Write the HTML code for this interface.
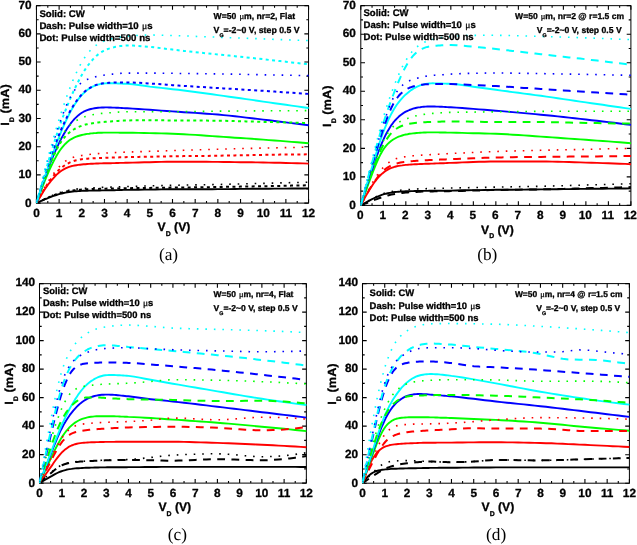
<!DOCTYPE html>
<html lang="en">
<head>
<meta charset="utf-8">
<title>ID-VD characteristics: CW vs pulsed, flat and bent</title>
<style>
html,body{margin:0;padding:0;background:#fff;}
body{width:637px;height:545px;overflow:hidden;}
svg{display:block;will-change:transform;}
svg text{text-rendering:geometricPrecision;}
svg .b text tspan.mu{font-family:'Liberation Serif','Noto Serif CJK SC',serif;font-weight:normal;stroke-width:0.25px;}
svg .b text, svg text.b{stroke:#000;stroke-width:0.3px;stroke-linejoin:round;}
</style>
</head>
<body>
<svg width="637" height="545" viewBox="0 0 637 545">
<rect width="637" height="545" fill="#fff"/>
<g id="panel-a">
<clipPath id="clip-a"><rect x="35.95" y="5.15" width="273.1" height="198.45"/></clipPath>
<path d="M36.45 203.1v-4.2M36.45 5.65v4.2M47.79 203.1v-2.2M47.79 5.65v2.2M59.12 203.1v-4.2M59.12 5.65v4.2M70.46 203.1v-2.2M70.46 5.65v2.2M81.8 203.1v-4.2M81.8 5.65v4.2M93.14 203.1v-2.2M93.14 5.65v2.2M104.48 203.1v-4.2M104.48 5.65v4.2M115.81 203.1v-2.2M115.81 5.65v2.2M127.15 203.1v-4.2M127.15 5.65v4.2M138.49 203.1v-2.2M138.49 5.65v2.2M149.82 203.1v-4.2M149.82 5.65v4.2M161.16 203.1v-2.2M161.16 5.65v2.2M172.5 203.1v-4.2M172.5 5.65v4.2M183.84 203.1v-2.2M183.84 5.65v2.2M195.18 203.1v-4.2M195.18 5.65v4.2M206.51 203.1v-2.2M206.51 5.65v2.2M217.85 203.1v-4.2M217.85 5.65v4.2M229.19 203.1v-2.2M229.19 5.65v2.2M240.53 203.1v-4.2M240.53 5.65v4.2M251.86 203.1v-2.2M251.86 5.65v2.2M263.2 203.1v-4.2M263.2 5.65v4.2M274.54 203.1v-2.2M274.54 5.65v2.2M285.88 203.1v-4.2M285.88 5.65v4.2M297.21 203.1v-2.2M297.21 5.65v2.2M308.55 203.1v-4.2M308.55 5.65v4.2M36.45 203.1h4.2M308.55 203.1h-4.2M36.45 189h2.2M308.55 189h-2.2M36.45 174.89h4.2M308.55 174.89h-4.2M36.45 160.79h2.2M308.55 160.79h-2.2M36.45 146.69h4.2M308.55 146.69h-4.2M36.45 132.58h2.2M308.55 132.58h-2.2M36.45 118.48h4.2M308.55 118.48h-4.2M36.45 104.38h2.2M308.55 104.38h-2.2M36.45 90.27h4.2M308.55 90.27h-4.2M36.45 76.17h2.2M308.55 76.17h-2.2M36.45 62.06h4.2M308.55 62.06h-4.2M36.45 47.96h2.2M308.55 47.96h-2.2M36.45 33.86h4.2M308.55 33.86h-4.2M36.45 19.75h2.2M308.55 19.75h-2.2M36.45 5.65h4.2M308.55 5.65h-4.2" stroke="#000" stroke-width="1.1" fill="none"/>
<rect x="36.45" y="5.65" width="272.1" height="197.45" fill="none" stroke="#000" stroke-width="1"/>
<g clip-path="url(#clip-a)" fill="none" stroke-linejoin="round">
<path d="M36.5 203.1 L38.3 202.2 L40.1 201.4 L41.9 200.6 L43.7 199.8 L45.5 199 L47.3 198.3 L49.1 197.5 L51 196.9 L52.8 196.2 L54.6 195.6 L56.4 195 L58.2 194.4 L60 193.9 L61.8 193.5 L63.7 193 L65.5 192.6 L67.3 192.3 L69.1 192 L70.9 191.7 L72.7 191.5 L74.5 191.3 L76.4 191.2 L78.2 191.1 L80 191 L81.8 190.9 L83.6 190.8 L85.4 190.7 L87.2 190.7 L89.1 190.6 L90.9 190.6 L92.7 190.6 L94.5 190.5 L96.3 190.5 L98.1 190.5 L99.9 190.5 L101.8 190.4 L103.6 190.4 L105.4 190.4 L107.2 190.3 L109 190.3 L110.8 190.3 L112.6 190.2 L114.5 190.2 L116.3 190.1 L118.1 190.1 L119.9 190 L121.7 190 L123.5 189.9 L125.3 189.9 L127.2 189.9 L132.8 189.8 L138.5 189.7 L144.2 189.6 L149.8 189.6 L155.5 189.5 L161.2 189.4 L166.8 189.3 L172.5 189.3 L178.2 189.3 L183.8 189.2 L189.5 189.2 L195.2 189.2 L200.8 189.2 L206.5 189.2 L212.2 189.2 L217.9 189.1 L223.5 189.1 L229.2 189.1 L234.9 189 L240.5 188.9 L246.2 188.9 L251.9 188.8 L257.5 188.8 L263.2 188.7 L268.9 188.7 L274.5 188.6 L280.2 188.6 L285.9 188.6 L291.5 188.5 L297.2 188.5 L302.9 188.5 L308.6 188.4" stroke="#000000" stroke-width="1.9"/>
<path d="M36.5 203.1 L38.3 200 L40.1 196.9 L41.9 193.9 L43.7 191 L45.5 188.3 L47.3 185.7 L49.1 183.3 L51 180.9 L52.8 178.8 L54.6 176.8 L56.4 174.9 L58.2 173.3 L60 171.8 L61.8 170.5 L63.7 169.4 L65.5 168.4 L67.3 167.6 L69.1 166.9 L70.9 166.3 L72.7 165.9 L74.5 165.5 L76.4 165.2 L78.2 164.9 L80 164.7 L81.8 164.5 L83.6 164.3 L85.4 164.2 L87.2 164 L89.1 163.9 L90.9 163.8 L92.7 163.7 L94.5 163.6 L96.3 163.5 L98.1 163.5 L99.9 163.4 L101.8 163.4 L103.6 163.3 L105.4 163.3 L107.2 163.3 L109 163.2 L110.8 163.2 L112.6 163.1 L114.5 163.1 L116.3 163 L118.1 163 L119.9 162.9 L121.7 162.9 L123.5 162.9 L125.3 162.8 L127.2 162.8 L132.8 162.6 L138.5 162.5 L144.2 162.3 L149.8 162.2 L155.5 162 L161.2 161.9 L166.8 161.7 L172.5 161.7 L178.2 161.6 L183.8 161.7 L189.5 161.7 L195.2 161.7 L200.8 161.8 L206.5 161.8 L212.2 161.9 L217.9 161.9 L223.5 162 L229.2 162 L234.9 162.1 L240.5 162.2 L246.2 162.2 L251.9 162.3 L257.5 162.4 L263.2 162.5 L268.9 162.6 L274.5 162.7 L280.2 162.8 L285.9 163 L291.5 163.1 L297.2 163.3 L302.9 163.4 L308.6 163.6" stroke="#ff0000" stroke-width="1.9"/>
<path d="M36.5 203.1 L38.3 198.1 L40.1 193.2 L41.9 188.4 L43.7 183.7 L45.5 179.2 L47.3 174.9 L49.1 170.7 L51 166.7 L52.8 162.9 L54.6 159.4 L56.4 156.1 L58.2 153.1 L60 150.3 L61.8 147.9 L63.7 145.7 L65.5 143.7 L67.3 142 L69.1 140.6 L70.9 139.3 L72.7 138.3 L74.5 137.4 L76.4 136.7 L78.2 136 L80 135.5 L81.8 135 L83.6 134.6 L85.4 134.2 L87.2 133.9 L89.1 133.7 L90.9 133.4 L92.7 133.3 L94.5 133.1 L96.3 133 L98.1 132.8 L99.9 132.8 L101.8 132.7 L103.6 132.6 L105.4 132.6 L107.2 132.6 L109 132.6 L110.8 132.6 L112.6 132.6 L114.5 132.6 L116.3 132.6 L118.1 132.6 L119.9 132.7 L121.7 132.7 L123.5 132.7 L125.3 132.7 L127.2 132.7 L132.8 132.8 L138.5 132.9 L144.2 133 L149.8 133.1 L155.5 133.3 L161.2 133.4 L166.8 133.5 L172.5 133.7 L178.2 134 L183.8 134.2 L189.5 134.6 L195.2 134.9 L200.8 135.3 L206.5 135.7 L212.2 136.1 L217.9 136.5 L223.5 136.9 L229.2 137.3 L234.9 137.7 L240.5 138 L246.2 138.4 L251.9 138.8 L257.5 139.2 L263.2 139.6 L268.9 140.1 L274.5 140.5 L280.2 140.9 L285.9 141.4 L291.5 141.9 L297.2 142.3 L302.9 142.8 L308.6 143.3" stroke="#00ff00" stroke-width="1.9"/>
<path d="M36.5 203.1 L38.3 197.4 L40.1 191.8 L41.9 186.4 L43.7 181 L45.5 175.9 L47.3 170.9 L49.1 166.1 L51 161.5 L52.8 157 L54.6 152.7 L56.4 148.7 L58.2 144.8 L60 141.1 L61.8 137.6 L63.7 134.3 L65.5 131.2 L67.3 128.3 L69.1 125.7 L70.9 123.2 L72.7 121 L74.5 118.9 L76.4 117.1 L78.2 115.4 L80 114 L81.8 112.8 L83.6 111.7 L85.4 110.9 L87.2 110.1 L89.1 109.5 L90.9 109 L92.7 108.6 L94.5 108.3 L96.3 108 L98.1 107.8 L99.9 107.6 L101.8 107.5 L103.6 107.5 L105.4 107.4 L107.2 107.4 L109 107.5 L110.8 107.5 L112.6 107.6 L114.5 107.6 L116.3 107.7 L118.1 107.8 L119.9 107.9 L121.7 108 L123.5 108.1 L125.3 108.2 L127.2 108.3 L132.8 108.6 L138.5 109 L144.2 109.4 L149.8 109.7 L155.5 110.1 L161.2 110.6 L166.8 111 L172.5 111.4 L178.2 111.8 L183.8 112.2 L189.5 112.5 L195.2 112.9 L200.8 113.3 L206.5 113.7 L212.2 114.1 L217.9 114.5 L223.5 115.1 L229.2 115.6 L234.9 116.2 L240.5 116.9 L246.2 117.6 L251.9 118.2 L257.5 118.9 L263.2 119.6 L268.9 120.3 L274.5 121 L280.2 121.7 L285.9 122.4 L291.5 123.1 L297.2 123.8 L302.9 124.5 L308.6 125.2" stroke="#0000ff" stroke-width="1.9"/>
<path d="M36.5 203.1 L38.3 197.3 L40.1 191.6 L41.9 185.9 L43.7 180.3 L45.5 174.8 L47.3 169.4 L49.1 164.1 L51 158.9 L52.8 153.8 L54.6 148.8 L56.4 143.9 L58.2 139.2 L60 134.6 L61.8 130.2 L63.7 125.9 L65.5 121.8 L67.3 118 L69.1 114.3 L70.9 110.9 L72.7 107.7 L74.5 104.7 L76.4 102 L78.2 99.4 L80 97.1 L81.8 95 L83.6 93.2 L85.4 91.5 L87.2 90 L89.1 88.7 L90.9 87.6 L92.7 86.6 L94.5 85.8 L96.3 85.1 L98.1 84.6 L99.9 84.1 L101.8 83.8 L103.6 83.5 L105.4 83.4 L107.2 83.3 L109 83.3 L110.8 83.3 L112.6 83.3 L114.5 83.4 L116.3 83.4 L118.1 83.5 L119.9 83.5 L121.7 83.6 L123.5 83.7 L125.3 83.7 L127.2 83.8 L132.8 84.3 L138.5 85 L144.2 85.8 L149.8 86.6 L155.5 87.2 L161.2 87.9 L166.8 88.5 L172.5 89.2 L178.2 89.8 L183.8 90.5 L189.5 91.3 L195.2 92 L200.8 92.8 L206.5 93.5 L212.2 94.3 L217.9 95.1 L223.5 95.9 L229.2 96.7 L234.9 97.5 L240.5 98.3 L246.2 99.1 L251.9 99.9 L257.5 100.7 L263.2 101.6 L268.9 102.4 L274.5 103.2 L280.2 104 L285.9 104.8 L291.5 105.6 L297.2 106.4 L302.9 107.2 L308.6 108" stroke="#00ffff" stroke-width="1.9"/>
<path d="M36.5 203.1 L38.3 202.2 L40.1 201.3 L41.9 200.5 L43.7 199.6 L45.5 198.8 L47.3 198 L49.1 197.2 L51 196.4 L52.8 195.7 L54.6 194.9 L56.4 194.3 L58.2 193.7 L60 193.1 L61.8 192.6 L63.7 192.1 L65.5 191.7 L67.3 191.3 L69.1 191 L70.9 190.7 L72.7 190.5 L74.5 190.2 L76.4 190.1 L78.2 189.9 L80 189.7 L81.8 189.6 L83.6 189.5 L85.4 189.4 L87.2 189.3 L89.1 189.2 L90.9 189.1 L92.7 189 L94.5 189 L96.3 188.9 L98.1 188.9 L99.9 188.8 L101.8 188.8 L103.6 188.7 L105.4 188.7 L107.2 188.6 L109 188.6 L110.8 188.5 L112.6 188.5 L114.5 188.4 L116.3 188.4 L118.1 188.4 L119.9 188.3 L121.7 188.3 L123.5 188.2 L125.3 188.2 L127.2 188.2 L132.8 188.1 L138.5 188 L144.2 187.9 L149.8 187.9 L155.5 187.8 L161.2 187.7 L166.8 187.7 L172.5 187.6 L178.2 187.5 L183.8 187.5 L189.5 187.4 L195.2 187.3 L200.8 187.2 L206.5 187.2 L212.2 187.1 L217.9 187 L223.5 186.9 L229.2 186.8 L234.9 186.7 L240.5 186.6 L246.2 186.5 L251.9 186.4 L257.5 186.3 L263.2 186.2 L268.9 186.1 L274.5 186 L280.2 185.9 L285.9 185.8 L291.5 185.6 L297.2 185.5 L302.9 185.4 L308.6 185.3" stroke="#000000" stroke-width="2.0" stroke-dasharray="3 3.4"/>
<path d="M36.5 203.1 L38.3 199.7 L40.1 196.4 L41.9 193.2 L43.7 190.1 L45.5 187.2 L47.3 184.4 L49.1 181.7 L51 179.1 L52.8 176.7 L54.6 174.5 L56.4 172.5 L58.2 170.6 L60 168.9 L61.8 167.4 L63.7 166 L65.5 164.8 L67.3 163.8 L69.1 162.8 L70.9 162 L72.7 161.4 L74.5 160.8 L76.4 160.3 L78.2 159.9 L80 159.5 L81.8 159.2 L83.6 159 L85.4 158.8 L87.2 158.7 L89.1 158.5 L90.9 158.4 L92.7 158.3 L94.5 158.2 L96.3 158.1 L98.1 158.1 L99.9 158 L101.8 157.9 L103.6 157.9 L105.4 157.8 L107.2 157.7 L109 157.7 L110.8 157.6 L112.6 157.6 L114.5 157.5 L116.3 157.4 L118.1 157.4 L119.9 157.3 L121.7 157.3 L123.5 157.2 L125.3 157.2 L127.2 157.1 L132.8 157 L138.5 156.9 L144.2 156.8 L149.8 156.7 L155.5 156.6 L161.2 156.5 L166.8 156.4 L172.5 156.3 L178.2 156.2 L183.8 156.1 L189.5 156.1 L195.2 156 L200.8 155.9 L206.5 155.9 L212.2 155.8 L217.9 155.7 L223.5 155.6 L229.2 155.5 L234.9 155.4 L240.5 155.3 L246.2 155.2 L251.9 155.1 L257.5 155 L263.2 154.9 L268.9 154.8 L274.5 154.7 L280.2 154.6 L285.9 154.6 L291.5 154.5 L297.2 154.4 L302.9 154.4 L308.6 154.3" stroke="#ff0000" stroke-width="2.0" stroke-dasharray="3 3.4"/>
<path d="M36.5 203.1 L38.3 197.7 L40.1 192.4 L41.9 187.1 L43.7 182 L45.5 177 L47.3 172.1 L49.1 167.3 L51 162.6 L52.8 158.1 L54.6 153.9 L56.4 150.1 L58.2 146.6 L60 143.5 L61.8 140.7 L63.7 138.3 L65.5 136.2 L67.3 134.4 L69.1 132.7 L70.9 131.3 L72.7 130 L74.5 129 L76.4 128 L78.2 127.1 L80 126.4 L81.8 125.7 L83.6 125.2 L85.4 124.6 L87.2 124.2 L89.1 123.8 L90.9 123.5 L92.7 123.2 L94.5 122.9 L96.3 122.7 L98.1 122.5 L99.9 122.3 L101.8 122.1 L103.6 121.9 L105.4 121.8 L107.2 121.7 L109 121.5 L110.8 121.4 L112.6 121.2 L114.5 121.1 L116.3 121 L118.1 120.9 L119.9 120.8 L121.7 120.7 L123.5 120.6 L125.3 120.5 L127.2 120.5 L132.8 120.3 L138.5 120.3 L144.2 120.2 L149.8 120.2 L155.5 120.2 L161.2 120.3 L166.8 120.4 L172.5 120.4 L178.2 120.5 L183.8 120.5 L189.5 120.6 L195.2 120.6 L200.8 120.6 L206.5 120.6 L212.2 120.7 L217.9 120.7 L223.5 120.8 L229.2 120.9 L234.9 121.1 L240.5 121.2 L246.2 121.4 L251.9 121.5 L257.5 121.7 L263.2 121.9 L268.9 122 L274.5 122.1 L280.2 122.3 L285.9 122.4 L291.5 122.6 L297.2 122.7 L302.9 122.9 L308.6 123" stroke="#00ff00" stroke-width="2.0" stroke-dasharray="3 3.4"/>
<path d="M36.5 203.1 L38.3 197.1 L40.1 191.1 L41.9 185.2 L43.7 179.4 L45.5 173.7 L47.3 168 L49.1 162.5 L51 157 L52.8 151.7 L54.6 146.6 L56.4 141.6 L58.2 136.9 L60 132.4 L61.8 128 L63.7 124 L65.5 120.1 L67.3 116.4 L69.1 113 L70.9 109.7 L72.7 106.7 L74.5 103.8 L76.4 101.1 L78.2 98.7 L80 96.5 L81.8 94.5 L83.6 92.7 L85.4 91.1 L87.2 89.6 L89.1 88.4 L90.9 87.3 L92.7 86.3 L94.5 85.5 L96.3 84.9 L98.1 84.3 L99.9 83.9 L101.8 83.5 L103.6 83.2 L105.4 83 L107.2 82.9 L109 82.8 L110.8 82.7 L112.6 82.6 L114.5 82.6 L116.3 82.5 L118.1 82.5 L119.9 82.4 L121.7 82.4 L123.5 82.4 L125.3 82.4 L127.2 82.4 L132.8 82.5 L138.5 82.8 L144.2 83.1 L149.8 83.5 L155.5 83.9 L161.2 84.3 L166.8 84.8 L172.5 85.2 L178.2 85.6 L183.8 85.9 L189.5 86.3 L195.2 86.6 L200.8 87 L206.5 87.3 L212.2 87.7 L217.9 88 L223.5 88.4 L229.2 88.7 L234.9 89.1 L240.5 89.4 L246.2 89.8 L251.9 90.1 L257.5 90.5 L263.2 90.8 L268.9 91.2 L274.5 91.6 L280.2 92 L285.9 92.4 L291.5 92.7 L297.2 93.1 L302.9 93.5 L308.6 93.9" stroke="#0000ff" stroke-width="2.0" stroke-dasharray="3 3.4"/>
<path d="M36.5 203.1 L38.3 196.7 L40.1 190.3 L41.9 184 L43.7 177.7 L45.5 171.4 L47.3 165.2 L49.1 159.1 L51 153.1 L52.8 147.1 L54.6 141.3 L56.4 135.7 L58.2 130.2 L60 124.9 L61.8 119.8 L63.7 115 L65.5 110.3 L67.3 105.8 L69.1 101.4 L70.9 97.1 L72.7 93 L74.5 89.1 L76.4 85.3 L78.2 81.7 L80 78.2 L81.8 75 L83.6 71.9 L85.4 69.1 L87.2 66.4 L89.1 64 L90.9 61.7 L92.7 59.6 L94.5 57.7 L96.3 56 L98.1 54.4 L99.9 53 L101.8 51.8 L103.6 50.8 L105.4 49.9 L107.2 49.2 L109 48.6 L110.8 48.1 L112.6 47.6 L114.5 47.1 L116.3 46.8 L118.1 46.4 L119.9 46.1 L121.7 45.9 L123.5 45.7 L125.3 45.6 L127.2 45.5 L132.8 45.6 L138.5 45.9 L144.2 46.4 L149.8 46.9 L155.5 47.5 L161.2 48.2 L166.8 48.9 L172.5 49.6 L178.2 50.3 L183.8 50.9 L189.5 51.5 L195.2 52.1 L200.8 52.7 L206.5 53.3 L212.2 53.9 L217.9 54.4 L223.5 55 L229.2 55.6 L234.9 56.2 L240.5 56.8 L246.2 57.4 L251.9 58 L257.5 58.6 L263.2 59.2 L268.9 59.9 L274.5 60.5 L280.2 61.1 L285.9 61.7 L291.5 62.4 L297.2 63 L302.9 63.7 L308.6 64.3" stroke="#00ffff" stroke-width="2.0" stroke-dasharray="3 3.4"/>
<path d="M36.5 203.1 L38.3 202.2 L40.1 201.2 L41.9 200.3 L43.7 199.4 L45.5 198.6 L47.3 197.7 L49.1 196.9 L51 196 L52.8 195.2 L54.6 194.5 L56.4 193.8 L58.2 193.1 L60 192.5 L61.8 192 L63.7 191.4 L65.5 191 L67.3 190.6 L69.1 190.2 L70.9 189.9 L72.7 189.6 L74.5 189.3 L76.4 189.1 L78.2 188.8 L80 188.6 L81.8 188.5 L83.6 188.3 L85.4 188.2 L87.2 188.1 L89.1 188 L90.9 187.9 L92.7 187.8 L94.5 187.7 L96.3 187.6 L98.1 187.5 L99.9 187.5 L101.8 187.4 L103.6 187.3 L105.4 187.3 L107.2 187.2 L109 187.1 L110.8 187.1 L112.6 187 L114.5 186.9 L116.3 186.8 L118.1 186.8 L119.9 186.7 L121.7 186.6 L123.5 186.6 L125.3 186.5 L127.2 186.5 L132.8 186.3 L138.5 186.2 L144.2 186 L149.8 185.9 L155.5 185.7 L161.2 185.6 L166.8 185.5 L172.5 185.3 L178.2 185.2 L183.8 185.1 L189.5 185 L195.2 184.9 L200.8 184.8 L206.5 184.7 L212.2 184.6 L217.9 184.5 L223.5 184.4 L229.2 184.2 L234.9 184.1 L240.5 183.9 L246.2 183.8 L251.9 183.6 L257.5 183.5 L263.2 183.4 L268.9 183.2 L274.5 183.1 L280.2 182.9 L285.9 182.8 L291.5 182.6 L297.2 182.5 L302.9 182.4 L308.6 182.2" stroke="#000000" stroke-width="1.6" stroke-dasharray="1.6 6.9"/>
<path d="M36.5 203.1 L38.3 199.5 L40.1 196 L41.9 192.5 L43.7 189.2 L45.5 186 L47.3 183 L49.1 180.1 L51 177.3 L52.8 174.7 L54.6 172.2 L56.4 170 L58.2 167.9 L60 165.9 L61.8 164.2 L63.7 162.6 L65.5 161.2 L67.3 160 L69.1 159 L70.9 158.1 L72.7 157.5 L74.5 156.9 L76.4 156.5 L78.2 156.1 L80 155.8 L81.8 155.5 L83.6 155.2 L85.4 154.9 L87.2 154.7 L89.1 154.5 L90.9 154.3 L92.7 154.1 L94.5 153.9 L96.3 153.8 L98.1 153.6 L99.9 153.5 L101.8 153.4 L103.6 153.2 L105.4 153.1 L107.2 153 L109 152.9 L110.8 152.8 L112.6 152.7 L114.5 152.6 L116.3 152.5 L118.1 152.4 L119.9 152.4 L121.7 152.3 L123.5 152.2 L125.3 152.1 L127.2 152.1 L132.8 151.9 L138.5 151.7 L144.2 151.5 L149.8 151.3 L155.5 151.2 L161.2 151 L166.8 150.8 L172.5 150.6 L178.2 150.5 L183.8 150.3 L189.5 150.1 L195.2 149.9 L200.8 149.7 L206.5 149.6 L212.2 149.4 L217.9 149.2 L223.5 149.1 L229.2 148.9 L234.9 148.8 L240.5 148.6 L246.2 148.5 L251.9 148.4 L257.5 148.2 L263.2 148.1 L268.9 148 L274.5 147.9 L280.2 147.7 L285.9 147.6 L291.5 147.5 L297.2 147.4 L302.9 147.3 L308.6 147.3" stroke="#ff0000" stroke-width="1.6" stroke-dasharray="1.6 6.9"/>
<path d="M36.5 203.1 L38.3 197.5 L40.1 192 L41.9 186.6 L43.7 181.2 L45.5 175.9 L47.3 170.6 L49.1 165.5 L51 160.4 L52.8 155.5 L54.6 150.9 L56.4 146.5 L58.2 142.6 L60 139 L61.8 135.7 L63.7 132.9 L65.5 130.3 L67.3 128 L69.1 126.1 L70.9 124.4 L72.7 122.9 L74.5 121.6 L76.4 120.5 L78.2 119.5 L80 118.6 L81.8 117.8 L83.6 117.2 L85.4 116.6 L87.2 116 L89.1 115.5 L90.9 115.1 L92.7 114.7 L94.5 114.4 L96.3 114.1 L98.1 113.9 L99.9 113.6 L101.8 113.4 L103.6 113.2 L105.4 113.1 L107.2 112.9 L109 112.7 L110.8 112.6 L112.6 112.4 L114.5 112.3 L116.3 112.2 L118.1 112.1 L119.9 112 L121.7 111.9 L123.5 111.8 L125.3 111.8 L127.2 111.7 L132.8 111.7 L138.5 111.7 L144.2 111.7 L149.8 111.7 L155.5 111.7 L161.2 111.7 L166.8 111.7 L172.5 111.7 L178.2 111.7 L183.8 111.6 L189.5 111.6 L195.2 111.5 L200.8 111.4 L206.5 111.3 L212.2 111.2 L217.9 111.1 L223.5 111.1 L229.2 111.1 L234.9 111 L240.5 111 L246.2 111 L251.9 110.9 L257.5 110.9 L263.2 110.9 L268.9 110.8 L274.5 110.8 L280.2 110.8 L285.9 110.7 L291.5 110.7 L297.2 110.7 L302.9 110.6 L308.6 110.6" stroke="#00ff00" stroke-width="1.6" stroke-dasharray="1.6 6.9"/>
<path d="M36.5 203.1 L38.3 196.1 L40.1 189.2 L41.9 182.4 L43.7 175.7 L45.5 169.1 L47.3 162.7 L49.1 156.4 L51 150.2 L52.8 144.2 L54.6 138.4 L56.4 132.7 L58.2 127.2 L60 122 L61.8 116.9 L63.7 112.1 L65.5 107.6 L67.3 103.4 L69.1 99.5 L70.9 96.1 L72.7 93 L74.5 90.3 L76.4 87.9 L78.2 85.8 L80 84 L81.8 82.5 L83.6 81.3 L85.4 80.3 L87.2 79.4 L89.1 78.7 L90.9 78.1 L92.7 77.5 L94.5 77.1 L96.3 76.6 L98.1 76.2 L99.9 75.9 L101.8 75.5 L103.6 75.2 L105.4 75 L107.2 74.7 L109 74.5 L110.8 74.3 L112.6 74.1 L114.5 73.9 L116.3 73.7 L118.1 73.5 L119.9 73.4 L121.7 73.3 L123.5 73.2 L125.3 73.1 L127.2 73.1 L132.8 73.1 L138.5 73.1 L144.2 73.1 L149.8 73.1 L155.5 73.1 L161.2 73.2 L166.8 73.3 L172.5 73.3 L178.2 73.4 L183.8 73.5 L189.5 73.5 L195.2 73.6 L200.8 73.7 L206.5 73.8 L212.2 73.8 L217.9 73.9 L223.5 74 L229.2 74.1 L234.9 74.2 L240.5 74.3 L246.2 74.4 L251.9 74.5 L257.5 74.6 L263.2 74.8 L268.9 74.9 L274.5 75 L280.2 75.1 L285.9 75.2 L291.5 75.3 L297.2 75.4 L302.9 75.5 L308.6 75.6" stroke="#0000ff" stroke-width="1.6" stroke-dasharray="1.6 6.9"/>
<path d="M36.5 203.1 L38.3 195.7 L40.1 188.3 L41.9 181 L43.7 173.9 L45.5 166.9 L47.3 160.1 L49.1 153.4 L51 146.9 L52.8 140.5 L54.6 134.3 L56.4 128.2 L58.2 122.3 L60 116.5 L61.8 110.9 L63.7 105.4 L65.5 100.1 L67.3 95 L69.1 90.1 L70.9 85.4 L72.7 80.9 L74.5 76.7 L76.4 72.7 L78.2 68.9 L80 65.4 L81.8 62.2 L83.6 59.2 L85.4 56.5 L87.2 54 L89.1 51.8 L90.9 49.8 L92.7 48.1 L94.5 46.5 L96.3 45.2 L98.1 44 L99.9 42.9 L101.8 42 L103.6 41.2 L105.4 40.5 L107.2 39.9 L109 39.4 L110.8 38.9 L112.6 38.5 L114.5 38.1 L116.3 37.7 L118.1 37.4 L119.9 37.1 L121.7 36.8 L123.5 36.6 L125.3 36.3 L127.2 36.2 L132.8 35.7 L138.5 35.4 L144.2 35.1 L149.8 35 L155.5 35.1 L161.2 35.2 L166.8 35.4 L172.5 35.5 L178.2 35.7 L183.8 35.9 L189.5 36.1 L195.2 36.4 L200.8 36.6 L206.5 36.8 L212.2 37 L217.9 37.2 L223.5 37.5 L229.2 37.7 L234.9 37.9 L240.5 38.1 L246.2 38.3 L251.9 38.5 L257.5 38.7 L263.2 38.9 L268.9 39.1 L274.5 39.4 L280.2 39.6 L285.9 39.8 L291.5 40 L297.2 40.2 L302.9 40.4 L308.6 40.6" stroke="#00ffff" stroke-width="1.6" stroke-dasharray="1.6 6.9"/>
</g>
<g class="b" font-family="'Liberation Sans', Arial, sans-serif" font-weight="bold" font-size="11.8" fill="#000">
<text x="36.45" y="217" text-anchor="middle">0</text>
<text x="59.12" y="217" text-anchor="middle">1</text>
<text x="81.8" y="217" text-anchor="middle">2</text>
<text x="104.48" y="217" text-anchor="middle">3</text>
<text x="127.15" y="217" text-anchor="middle">4</text>
<text x="149.82" y="217" text-anchor="middle">5</text>
<text x="172.5" y="217" text-anchor="middle">6</text>
<text x="195.18" y="217" text-anchor="middle">7</text>
<text x="217.85" y="217" text-anchor="middle">8</text>
<text x="240.53" y="217" text-anchor="middle">9</text>
<text x="263.2" y="217" text-anchor="middle">10</text>
<text x="285.88" y="217" text-anchor="middle">11</text>
<text x="308.55" y="217" text-anchor="middle">12</text>
<text x="31.55" y="207" text-anchor="end">0</text>
<text x="31.55" y="178" text-anchor="end">10</text>
<text x="31.55" y="150" text-anchor="end">20</text>
<text x="31.55" y="122" text-anchor="end">30</text>
<text x="31.55" y="93" text-anchor="end">40</text>
<text x="31.55" y="65" text-anchor="end">50</text>
<text x="31.55" y="37" text-anchor="end">60</text>
<text x="31.55" y="9" text-anchor="end">70</text>
</g>
<g class="b" font-family="'Liberation Sans', Arial, sans-serif" font-weight="bold" font-size="9.65" fill="#000">
<text x="39.4" y="16.5">Solid: CW</text>
<text x="39.4" y="28.7">Dash: Pulse width=10 <tspan class="mu" dx="0.7">μ</tspan>s</text>
<text x="39.4" y="41.2">Dot: Pulse width=500 ns</text>
</g>
<g class="b" font-family="'Liberation Sans', Arial, sans-serif" font-weight="bold" font-size="8.65" fill="#000">
<text x="213.6" y="19.1" text-anchor="start">W=50 <tspan class="mu" dx="0.7">μ</tspan>m, nr=2, Flat</text>
<text x="213.6" y="33.3" font-size="8.75" text-anchor="start">V<tspan font-size="5.3" dy="3.8">G</tspan><tspan dy="-3.8">=-2~0 V, step 0.5 V</tspan></text>
</g>
<text class="b" x="157.6" y="231.2" font-family="'Liberation Sans', Arial, sans-serif" font-weight="bold" font-size="12.2" fill="#000">V<tspan font-size="6.9" dy="4.7">D</tspan><tspan dy="-4.7"> (V)</tspan></text>
<text class="b" transform="translate(8.9 125.78) rotate(-90) scale(1.085 1)" font-family="'Liberation Sans', Arial, sans-serif" font-weight="bold" font-size="11.8" fill="#000">I<tspan font-size="6.6" dy="4.7">D</tspan><tspan dy="-4.7"> (mA)</tspan></text>
<text x="168.5" y="260.4" text-anchor="middle" font-family="'Liberation Serif', 'Times New Roman', serif" font-size="17.3" fill="#000">(a)</text>
</g>
<g id="panel-b">
<clipPath id="clip-b"><rect x="360.3" y="5.15" width="271.1" height="200.75"/></clipPath>
<path d="M360.8 205.4v-4.2M360.8 5.65v4.2M372.05 205.4v-2.2M372.05 5.65v2.2M383.31 205.4v-4.2M383.31 5.65v4.2M394.56 205.4v-2.2M394.56 5.65v2.2M405.82 205.4v-4.2M405.82 5.65v4.2M417.07 205.4v-2.2M417.07 5.65v2.2M428.32 205.4v-4.2M428.32 5.65v4.2M439.58 205.4v-2.2M439.58 5.65v2.2M450.83 205.4v-4.2M450.83 5.65v4.2M462.09 205.4v-2.2M462.09 5.65v2.2M473.34 205.4v-4.2M473.34 5.65v4.2M484.6 205.4v-2.2M484.6 5.65v2.2M495.85 205.4v-4.2M495.85 5.65v4.2M507.1 205.4v-2.2M507.1 5.65v2.2M518.36 205.4v-4.2M518.36 5.65v4.2M529.61 205.4v-2.2M529.61 5.65v2.2M540.87 205.4v-4.2M540.87 5.65v4.2M552.12 205.4v-2.2M552.12 5.65v2.2M563.38 205.4v-4.2M563.38 5.65v4.2M574.63 205.4v-2.2M574.63 5.65v2.2M585.88 205.4v-4.2M585.88 5.65v4.2M597.14 205.4v-2.2M597.14 5.65v2.2M608.39 205.4v-4.2M608.39 5.65v4.2M619.65 205.4v-2.2M619.65 5.65v2.2M630.9 205.4v-4.2M630.9 5.65v4.2M360.8 205.4h4.2M630.9 205.4h-4.2M360.8 191.13h2.2M630.9 191.13h-2.2M360.8 176.86h4.2M630.9 176.86h-4.2M360.8 162.6h2.2M630.9 162.6h-2.2M360.8 148.33h4.2M630.9 148.33h-4.2M360.8 134.06h2.2M630.9 134.06h-2.2M360.8 119.79h4.2M630.9 119.79h-4.2M360.8 105.53h2.2M630.9 105.53h-2.2M360.8 91.26h4.2M630.9 91.26h-4.2M360.8 76.99h2.2M630.9 76.99h-2.2M360.8 62.72h4.2M630.9 62.72h-4.2M360.8 48.45h2.2M630.9 48.45h-2.2M360.8 34.19h4.2M630.9 34.19h-4.2M360.8 19.92h2.2M630.9 19.92h-2.2M360.8 5.65h4.2M630.9 5.65h-4.2" stroke="#000" stroke-width="1.1" fill="none"/>
<rect x="360.8" y="5.65" width="270.1" height="199.75" fill="none" stroke="#000" stroke-width="1"/>
<g clip-path="url(#clip-b)" fill="none" stroke-linejoin="round">
<path d="M360.8 205.4 L362.6 204.3 L364.4 203.3 L366.2 202.3 L368 201.3 L369.8 200.3 L371.6 199.4 L373.4 198.5 L375.2 197.7 L377 196.8 L378.8 196.1 L380.6 195.4 L382.4 194.7 L384.2 194.2 L386 193.7 L387.8 193.3 L389.6 192.9 L391.4 192.6 L393.2 192.3 L395 192 L396.8 191.9 L398.6 191.7 L400.4 191.6 L402.2 191.5 L404 191.4 L405.8 191.3 L407.6 191.2 L409.4 191.2 L411.2 191.1 L413 191.1 L414.8 191 L416.6 191 L418.4 191 L420.2 190.9 L422 190.9 L423.8 190.9 L425.6 190.9 L427.4 190.9 L429.2 190.8 L431 190.8 L432.8 190.8 L434.6 190.8 L436.4 190.7 L438.2 190.7 L440 190.7 L441.8 190.7 L443.6 190.7 L445.4 190.6 L447.2 190.6 L449 190.6 L450.8 190.6 L456.5 190.5 L462.1 190.3 L467.7 190.2 L473.3 190.1 L479 190.1 L484.6 190 L490.2 189.9 L495.9 189.8 L501.5 189.8 L507.1 189.7 L512.7 189.7 L518.4 189.6 L524 189.6 L529.6 189.5 L535.2 189.5 L540.9 189.4 L546.5 189.4 L552.1 189.3 L557.7 189.2 L563.4 189.1 L569 189.1 L574.6 189 L580.3 188.9 L585.9 188.9 L591.5 188.8 L597.1 188.7 L602.8 188.7 L608.4 188.6 L614 188.6 L619.6 188.5 L625.3 188.5 L630.9 188.4" stroke="#000000" stroke-width="1.9"/>
<path d="M360.8 205.4 L362.6 202 L364.4 198.6 L366.2 195.3 L368 192.2 L369.8 189.3 L371.6 186.5 L373.4 183.8 L375.2 181.3 L377 179 L378.8 176.9 L380.6 175 L382.4 173.4 L384.2 171.9 L386 170.7 L387.8 169.6 L389.6 168.7 L391.4 167.9 L393.2 167.3 L395 166.7 L396.8 166.3 L398.6 165.9 L400.4 165.6 L402.2 165.4 L404 165.1 L405.8 164.9 L407.6 164.8 L409.4 164.6 L411.2 164.5 L413 164.4 L414.8 164.3 L416.6 164.2 L418.4 164.1 L420.2 164 L422 164 L423.8 163.9 L425.6 163.8 L427.4 163.8 L429.2 163.7 L431 163.6 L432.8 163.6 L434.6 163.5 L436.4 163.4 L438.2 163.4 L440 163.3 L441.8 163.2 L443.6 163.2 L445.4 163.1 L447.2 163 L449 162.9 L450.8 162.9 L456.5 162.7 L462.1 162.4 L467.7 162.2 L473.3 162 L479 161.8 L484.6 161.7 L490.2 161.5 L495.9 161.5 L501.5 161.5 L507.1 161.5 L512.7 161.5 L518.4 161.5 L524 161.5 L529.6 161.5 L535.2 161.5 L540.9 161.5 L546.5 161.5 L552.1 161.6 L557.7 161.7 L563.4 161.9 L569 162 L574.6 162.2 L580.3 162.4 L585.9 162.6 L591.5 162.8 L597.1 162.9 L602.8 163.1 L608.4 163.3 L614 163.5 L619.6 163.7 L625.3 163.9 L630.9 164.2" stroke="#ff0000" stroke-width="1.9"/>
<path d="M360.8 205.4 L362.6 200.2 L364.4 195 L366.2 189.9 L368 185 L369.8 180.1 L371.6 175.3 L373.4 170.7 L375.2 166.2 L377 161.9 L378.8 157.8 L380.6 154.2 L382.4 151 L384.2 148.3 L386 145.9 L387.8 143.9 L389.6 142.2 L391.4 140.8 L393.2 139.5 L395 138.5 L396.8 137.5 L398.6 136.7 L400.4 136.1 L402.2 135.5 L404 134.9 L405.8 134.5 L407.6 134.2 L409.4 133.8 L411.2 133.6 L413 133.4 L414.8 133.2 L416.6 133 L418.4 132.9 L420.2 132.7 L422 132.6 L423.8 132.5 L425.6 132.5 L427.4 132.4 L429.2 132.4 L431 132.4 L432.8 132.4 L434.6 132.4 L436.4 132.4 L438.2 132.4 L440 132.5 L441.8 132.5 L443.6 132.5 L445.4 132.5 L447.2 132.6 L449 132.6 L450.8 132.6 L456.5 132.8 L462.1 132.9 L467.7 133.1 L473.3 133.2 L479 133.3 L484.6 133.5 L490.2 133.6 L495.9 133.8 L501.5 134 L507.1 134.3 L512.7 134.7 L518.4 135 L524 135.4 L529.6 135.8 L535.2 136.2 L540.9 136.6 L546.5 137 L552.1 137.4 L557.7 137.8 L563.4 138.2 L569 138.6 L574.6 139 L580.3 139.4 L585.9 139.8 L591.5 140.2 L597.1 140.6 L602.8 141 L608.4 141.4 L614 141.9 L619.6 142.3 L625.3 142.7 L630.9 143.2" stroke="#00ff00" stroke-width="1.9"/>
<path d="M360.8 205.4 L362.6 199.5 L364.4 193.7 L366.2 187.9 L368 182.3 L369.8 176.7 L371.6 171.2 L373.4 165.9 L375.2 160.6 L377 155.6 L378.8 150.7 L380.6 146.1 L382.4 141.8 L384.2 137.9 L386 134.2 L387.8 130.9 L389.6 127.9 L391.4 125.1 L393.2 122.7 L395 120.5 L396.8 118.6 L398.6 116.8 L400.4 115.3 L402.2 113.9 L404 112.7 L405.8 111.7 L407.6 110.8 L409.4 110 L411.2 109.3 L413 108.7 L414.8 108.2 L416.6 107.8 L418.4 107.4 L420.2 107.2 L422 106.9 L423.8 106.7 L425.6 106.6 L427.4 106.5 L429.2 106.5 L431 106.5 L432.8 106.5 L434.6 106.5 L436.4 106.6 L438.2 106.6 L440 106.7 L441.8 106.8 L443.6 106.9 L445.4 107 L447.2 107.1 L449 107.2 L450.8 107.3 L456.5 107.6 L462.1 108 L467.7 108.5 L473.3 108.9 L479 109.4 L484.6 109.8 L490.2 110.2 L495.9 110.7 L501.5 111.1 L507.1 111.6 L512.7 112.1 L518.4 112.6 L524 113.1 L529.6 113.6 L535.2 114.1 L540.9 114.7 L546.5 115.2 L552.1 115.8 L557.7 116.4 L563.4 117 L569 117.6 L574.6 118.2 L580.3 118.9 L585.9 119.5 L591.5 120.2 L597.1 120.8 L602.8 121.5 L608.4 122.1 L614 122.8 L619.6 123.5 L625.3 124.2 L630.9 124.9" stroke="#0000ff" stroke-width="1.9"/>
<path d="M360.8 205.4 L362.6 199.1 L364.4 192.9 L366.2 186.7 L368 180.6 L369.8 174.5 L371.6 168.4 L373.4 162.4 L375.2 156.5 L377 150.7 L378.8 145 L380.6 139.6 L382.4 134.5 L384.2 129.7 L386 125.3 L387.8 121.1 L389.6 117.3 L391.4 113.7 L393.2 110.5 L395 107.5 L396.8 104.8 L398.6 102.4 L400.4 100.1 L402.2 98.1 L404 96.2 L405.8 94.4 L407.6 92.9 L409.4 91.4 L411.2 90.1 L413 88.9 L414.8 87.8 L416.6 86.9 L418.4 86.1 L420.2 85.4 L422 84.8 L423.8 84.3 L425.6 83.9 L427.4 83.6 L429.2 83.5 L431 83.4 L432.8 83.3 L434.6 83.4 L436.4 83.4 L438.2 83.4 L440 83.5 L441.8 83.5 L443.6 83.6 L445.4 83.6 L447.2 83.7 L449 83.8 L450.8 83.9 L456.5 84.3 L462.1 85 L467.7 85.9 L473.3 86.7 L479 87.5 L484.6 88.3 L490.2 89 L495.9 89.8 L501.5 90.6 L507.1 91.3 L512.7 92.1 L518.4 92.8 L524 93.6 L529.6 94.3 L535.2 95.1 L540.9 95.8 L546.5 96.6 L552.1 97.4 L557.7 98.2 L563.4 99.1 L569 99.9 L574.6 100.7 L580.3 101.6 L585.9 102.4 L591.5 103.2 L597.1 104 L602.8 104.8 L608.4 105.7 L614 106.5 L619.6 107.3 L625.3 108.1 L630.9 108.9" stroke="#00ffff" stroke-width="1.9"/>
<path d="M360.8 205.4 L362.6 204.7 L364.4 203.9 L366.2 203.2 L368 202.5 L369.8 201.7 L371.6 201 L373.4 200.3 L375.2 199.6 L377 199 L378.8 198.3 L380.6 197.7 L382.4 197.1 L384.2 196.5 L386 196 L387.8 195.5 L389.6 195 L391.4 194.6 L393.2 194.2 L395 193.9 L396.8 193.6 L398.6 193.3 L400.4 193.1 L402.2 192.9 L404 192.8 L405.8 192.6 L407.6 192.4 L409.4 192.3 L411.2 192.2 L413 192.1 L414.8 192 L416.6 191.9 L418.4 191.8 L420.2 191.7 L422 191.6 L423.8 191.6 L425.6 191.5 L427.4 191.5 L429.2 191.4 L431 191.4 L432.8 191.4 L434.6 191.3 L436.4 191.3 L438.2 191.3 L440 191.3 L441.8 191.2 L443.6 191.2 L445.4 191.2 L447.2 191.2 L449 191.2 L450.8 191.1 L456.5 191 L462.1 190.9 L467.7 190.7 L473.3 190.6 L479 190.4 L484.6 190.3 L490.2 190.1 L495.9 190 L501.5 189.9 L507.1 189.8 L512.7 189.8 L518.4 189.7 L524 189.6 L529.6 189.6 L535.2 189.5 L540.9 189.4 L546.5 189.3 L552.1 189.2 L557.7 189 L563.4 188.9 L569 188.7 L574.6 188.6 L580.3 188.4 L585.9 188.3 L591.5 188.1 L597.1 188 L602.8 187.9 L608.4 187.7 L614 187.6 L619.6 187.4 L625.3 187.3 L630.9 187.1" stroke="#000000" stroke-width="2.0" stroke-dasharray="7.8 6.4"/>
<path d="M360.8 205.4 L362.6 201.9 L364.4 198.5 L366.2 195.1 L368 191.9 L369.8 188.8 L371.6 185.9 L373.4 183.1 L375.2 180.5 L377 178 L378.8 175.7 L380.6 173.6 L382.4 171.7 L384.2 170.1 L386 168.6 L387.8 167.4 L389.6 166.3 L391.4 165.3 L393.2 164.6 L395 163.9 L396.8 163.4 L398.6 163 L400.4 162.6 L402.2 162.3 L404 162 L405.8 161.8 L407.6 161.6 L409.4 161.4 L411.2 161.2 L413 161.1 L414.8 160.9 L416.6 160.8 L418.4 160.7 L420.2 160.6 L422 160.5 L423.8 160.4 L425.6 160.3 L427.4 160.2 L429.2 160.1 L431 160 L432.8 160 L434.6 159.9 L436.4 159.8 L438.2 159.7 L440 159.6 L441.8 159.6 L443.6 159.5 L445.4 159.4 L447.2 159.3 L449 159.2 L450.8 159.2 L456.5 159 L462.1 158.7 L467.7 158.5 L473.3 158.3 L479 158.1 L484.6 157.8 L490.2 157.6 L495.9 157.5 L501.5 157.4 L507.1 157.3 L512.7 157.2 L518.4 157.1 L524 157.1 L529.6 157 L535.2 156.9 L540.9 156.9 L546.5 156.8 L552.1 156.8 L557.7 156.7 L563.4 156.7 L569 156.6 L574.6 156.6 L580.3 156.5 L585.9 156.5 L591.5 156.4 L597.1 156.4 L602.8 156.3 L608.4 156.2 L614 156.2 L619.6 156.1 L625.3 156.1 L630.9 156" stroke="#ff0000" stroke-width="2.0" stroke-dasharray="7.8 6.4"/>
<path d="M360.8 205.4 L362.6 199.8 L364.4 194.3 L366.2 188.8 L368 183.5 L369.8 178.3 L371.6 173.2 L373.4 168.3 L375.2 163.5 L377 158.9 L378.8 154.5 L380.6 150.4 L382.4 146.7 L384.2 143.4 L386 140.3 L387.8 137.6 L389.6 135.2 L391.4 133.1 L393.2 131.3 L395 129.8 L396.8 128.5 L398.6 127.4 L400.4 126.5 L402.2 125.8 L404 125.1 L405.8 124.6 L407.6 124.1 L409.4 123.8 L411.2 123.4 L413 123.2 L414.8 123 L416.6 122.8 L418.4 122.6 L420.2 122.5 L422 122.4 L423.8 122.3 L425.6 122.2 L427.4 122.1 L429.2 122 L431 122 L432.8 121.9 L434.6 121.9 L436.4 121.8 L438.2 121.7 L440 121.7 L441.8 121.6 L443.6 121.6 L445.4 121.6 L447.2 121.5 L449 121.5 L450.8 121.5 L456.5 121.5 L462.1 121.6 L467.7 121.6 L473.3 121.7 L479 121.8 L484.6 121.9 L490.2 122 L495.9 122.1 L501.5 122.1 L507.1 122.1 L512.7 122.1 L518.4 122.1 L524 122.1 L529.6 122.1 L535.2 122.1 L540.9 122.1 L546.5 122.1 L552.1 122.2 L557.7 122.3 L563.4 122.4 L569 122.5 L574.6 122.7 L580.3 122.8 L585.9 122.9 L591.5 123 L597.1 123.1 L602.8 123.2 L608.4 123.3 L614 123.4 L619.6 123.5 L625.3 123.6 L630.9 123.6" stroke="#00ff00" stroke-width="2.0" stroke-dasharray="7.8 6.4"/>
<path d="M360.8 205.4 L362.6 198.9 L364.4 192.4 L366.2 186 L368 179.7 L369.8 173.3 L371.6 167.1 L373.4 160.9 L375.2 154.7 L377 148.7 L378.8 142.8 L380.6 137.1 L382.4 131.5 L384.2 126.2 L386 121.1 L387.8 116.2 L389.6 111.8 L391.4 107.7 L393.2 104.1 L395 101 L396.8 98.3 L398.6 96 L400.4 94 L402.2 92.4 L404 90.9 L405.8 89.7 L407.6 88.7 L409.4 87.8 L411.2 87.1 L413 86.5 L414.8 86 L416.6 85.5 L418.4 85.2 L420.2 84.9 L422 84.7 L423.8 84.5 L425.6 84.3 L427.4 84.2 L429.2 84.2 L431 84.2 L432.8 84.1 L434.6 84.1 L436.4 84.1 L438.2 84.1 L440 84.1 L441.8 84.1 L443.6 84.1 L445.4 84.1 L447.2 84.1 L449 84.1 L450.8 84.1 L456.5 84.2 L462.1 84.4 L467.7 84.7 L473.3 85 L479 85.2 L484.6 85.5 L490.2 85.8 L495.9 86.1 L501.5 86.4 L507.1 86.8 L512.7 87.1 L518.4 87.5 L524 87.9 L529.6 88.2 L535.2 88.6 L540.9 89 L546.5 89.3 L552.1 89.7 L557.7 90 L563.4 90.4 L569 90.8 L574.6 91.1 L580.3 91.5 L585.9 91.8 L591.5 92.2 L597.1 92.5 L602.8 92.9 L608.4 93.3 L614 93.6 L619.6 94 L625.3 94.3 L630.9 94.7" stroke="#0000ff" stroke-width="2.0" stroke-dasharray="7.8 6.4"/>
<path d="M360.8 205.4 L362.6 198.5 L364.4 191.5 L366.2 184.7 L368 177.8 L369.8 171.1 L371.6 164.4 L373.4 157.7 L375.2 151.1 L377 144.6 L378.8 138.3 L380.6 132.1 L382.4 126.2 L384.2 120.5 L386 115 L387.8 109.7 L389.6 104.7 L391.4 99.7 L393.2 95 L395 90.3 L396.8 85.8 L398.6 81.5 L400.4 77.3 L402.2 73.4 L404 69.7 L405.8 66.4 L407.6 63.3 L409.4 60.5 L411.2 58.1 L413 55.9 L414.8 54 L416.6 52.3 L418.4 51 L420.2 49.8 L422 48.9 L423.8 48.1 L425.6 47.4 L427.4 46.9 L429.2 46.6 L431 46.3 L432.8 46 L434.6 45.8 L436.4 45.7 L438.2 45.5 L440 45.4 L441.8 45.3 L443.6 45.2 L445.4 45.2 L447.2 45.1 L449 45.1 L450.8 45.1 L456.5 45.3 L462.1 45.7 L467.7 46.2 L473.3 46.7 L479 47.3 L484.6 47.8 L490.2 48.4 L495.9 49 L501.5 49.6 L507.1 50.3 L512.7 50.9 L518.4 51.6 L524 52.2 L529.6 52.9 L535.2 53.5 L540.9 54.2 L546.5 54.8 L552.1 55.4 L557.7 56.1 L563.4 56.7 L569 57.4 L574.6 58 L580.3 58.6 L585.9 59.3 L591.5 60 L597.1 60.6 L602.8 61.3 L608.4 62 L614 62.7 L619.6 63.3 L625.3 64 L630.9 64.7" stroke="#00ffff" stroke-width="2.0" stroke-dasharray="7.8 6.4"/>
<path d="M360.8 205.4 L362.6 204.3 L364.4 203.2 L366.2 202.2 L368 201.1 L369.8 200.1 L371.6 199.1 L373.4 198.1 L375.2 197.2 L377 196.3 L378.8 195.4 L380.6 194.7 L382.4 194 L384.2 193.3 L386 192.8 L387.8 192.3 L389.6 191.9 L391.4 191.5 L393.2 191.2 L395 190.9 L396.8 190.6 L398.6 190.4 L400.4 190.2 L402.2 190 L404 189.9 L405.8 189.7 L407.6 189.6 L409.4 189.5 L411.2 189.3 L413 189.2 L414.8 189.1 L416.6 189 L418.4 188.9 L420.2 188.9 L422 188.8 L423.8 188.7 L425.6 188.7 L427.4 188.6 L429.2 188.5 L431 188.5 L432.8 188.4 L434.6 188.4 L436.4 188.3 L438.2 188.3 L440 188.2 L441.8 188.2 L443.6 188.2 L445.4 188.1 L447.2 188.1 L449 188 L450.8 188 L456.5 187.9 L462.1 187.8 L467.7 187.7 L473.3 187.6 L479 187.5 L484.6 187.4 L490.2 187.2 L495.9 187.1 L501.5 187 L507.1 186.9 L512.7 186.8 L518.4 186.7 L524 186.6 L529.6 186.5 L535.2 186.4 L540.9 186.3 L546.5 186.1 L552.1 186 L557.7 185.8 L563.4 185.7 L569 185.5 L574.6 185.3 L580.3 185.2 L585.9 185 L591.5 184.8 L597.1 184.7 L602.8 184.5 L608.4 184.4 L614 184.2 L619.6 184 L625.3 183.9 L630.9 183.7" stroke="#000000" stroke-width="1.6" stroke-dasharray="1.6 6.9"/>
<path d="M360.8 205.4 L362.6 201.6 L364.4 197.9 L366.2 194.3 L368 190.8 L369.8 187.4 L371.6 184.2 L373.4 181.2 L375.2 178.3 L377 175.5 L378.8 172.9 L380.6 170.6 L382.4 168.4 L384.2 166.5 L386 164.8 L387.8 163.3 L389.6 162 L391.4 160.9 L393.2 159.9 L395 159.1 L396.8 158.5 L398.6 158 L400.4 157.6 L402.2 157.2 L404 156.9 L405.8 156.7 L407.6 156.4 L409.4 156.2 L411.2 156 L413 155.8 L414.8 155.7 L416.6 155.5 L418.4 155.4 L420.2 155.3 L422 155.1 L423.8 155 L425.6 154.9 L427.4 154.8 L429.2 154.7 L431 154.6 L432.8 154.5 L434.6 154.4 L436.4 154.3 L438.2 154.2 L440 154.1 L441.8 154 L443.6 153.9 L445.4 153.8 L447.2 153.7 L449 153.6 L450.8 153.5 L456.5 153.2 L462.1 153 L467.7 152.7 L473.3 152.5 L479 152.2 L484.6 151.9 L490.2 151.7 L495.9 151.5 L501.5 151.3 L507.1 151.1 L512.7 151 L518.4 150.8 L524 150.7 L529.6 150.6 L535.2 150.5 L540.9 150.3 L546.5 150.2 L552.1 150.1 L557.7 149.9 L563.4 149.8 L569 149.7 L574.6 149.6 L580.3 149.5 L585.9 149.3 L591.5 149.2 L597.1 149.1 L602.8 149 L608.4 148.8 L614 148.7 L619.6 148.6 L625.3 148.5 L630.9 148.3" stroke="#ff0000" stroke-width="1.6" stroke-dasharray="1.6 6.9"/>
<path d="M360.8 205.4 L362.6 199.6 L364.4 193.9 L366.2 188.2 L368 182.6 L369.8 177.1 L371.6 171.7 L373.4 166.4 L375.2 161.1 L377 156.1 L378.8 151.3 L380.6 146.9 L382.4 142.8 L384.2 139.2 L386 136 L387.8 133.1 L389.6 130.6 L391.4 128.4 L393.2 126.6 L395 125 L396.8 123.6 L398.6 122.4 L400.4 121.4 L402.2 120.6 L404 119.8 L405.8 119 L407.6 118.4 L409.4 117.7 L411.2 117.2 L413 116.6 L414.8 116.2 L416.6 115.7 L418.4 115.3 L420.2 115 L422 114.7 L423.8 114.4 L425.6 114.2 L427.4 114 L429.2 113.8 L431 113.6 L432.8 113.4 L434.6 113.3 L436.4 113.1 L438.2 113 L440 112.9 L441.8 112.8 L443.6 112.7 L445.4 112.6 L447.2 112.5 L449 112.4 L450.8 112.4 L456.5 112.3 L462.1 112.2 L467.7 112.1 L473.3 112.1 L479 112 L484.6 111.9 L490.2 111.9 L495.9 111.8 L501.5 111.7 L507.1 111.7 L512.7 111.6 L518.4 111.6 L524 111.5 L529.6 111.5 L535.2 111.4 L540.9 111.4 L546.5 111.3 L552.1 111.3 L557.7 111.3 L563.4 111.3 L569 111.3 L574.6 111.2 L580.3 111.2 L585.9 111.2 L591.5 111.2 L597.1 111.2 L602.8 111.2 L608.4 111.2 L614 111.2 L619.6 111.2 L625.3 111.2 L630.9 111.2" stroke="#00ff00" stroke-width="1.6" stroke-dasharray="1.6 6.9"/>
<path d="M360.8 205.4 L362.6 198.4 L364.4 191.5 L366.2 184.6 L368 177.8 L369.8 171.1 L371.6 164.4 L373.4 157.9 L375.2 151.5 L377 145.2 L378.8 139.1 L380.6 133.1 L382.4 127.3 L384.2 121.7 L386 116.3 L387.8 111.1 L389.6 106.3 L391.4 102 L393.2 98.1 L395 94.7 L396.8 91.8 L398.6 89.3 L400.4 87.2 L402.2 85.5 L404 83.9 L405.8 82.7 L407.6 81.6 L409.4 80.8 L411.2 80 L413 79.4 L414.8 78.8 L416.6 78.3 L418.4 77.9 L420.2 77.4 L422 77 L423.8 76.7 L425.6 76.3 L427.4 76.1 L429.2 75.8 L431 75.6 L432.8 75.4 L434.6 75.2 L436.4 75.1 L438.2 74.9 L440 74.8 L441.8 74.7 L443.6 74.6 L445.4 74.4 L447.2 74.3 L449 74.2 L450.8 74.1 L456.5 73.9 L462.1 73.6 L467.7 73.4 L473.3 73.3 L479 73.2 L484.6 73.1 L490.2 73 L495.9 73 L501.5 73 L507.1 73.1 L512.7 73.1 L518.4 73.2 L524 73.3 L529.6 73.4 L535.2 73.5 L540.9 73.6 L546.5 73.7 L552.1 73.8 L557.7 73.9 L563.4 74 L569 74.1 L574.6 74.2 L580.3 74.3 L585.9 74.4 L591.5 74.5 L597.1 74.6 L602.8 74.7 L608.4 74.8 L614 75 L619.6 75.1 L625.3 75.2 L630.9 75.3" stroke="#0000ff" stroke-width="1.6" stroke-dasharray="1.6 6.9"/>
<path d="M360.8 205.4 L362.6 198 L364.4 190.6 L366.2 183.3 L368 176 L369.8 168.8 L371.6 161.6 L373.4 154.5 L375.2 147.4 L377 140.5 L378.8 133.7 L380.6 127.1 L382.4 120.8 L384.2 114.7 L386 108.9 L387.8 103.3 L389.6 98 L391.4 92.9 L393.2 88.1 L395 83.5 L396.8 79 L398.6 74.8 L400.4 70.9 L402.2 67.2 L404 63.7 L405.8 60.6 L407.6 57.7 L409.4 55.1 L411.2 52.7 L413 50.6 L414.8 48.7 L416.6 47.1 L418.4 45.7 L420.2 44.5 L422 43.4 L423.8 42.5 L425.6 41.7 L427.4 41 L429.2 40.4 L431 39.9 L432.8 39.4 L434.6 39 L436.4 38.6 L438.2 38.2 L440 37.9 L441.8 37.6 L443.6 37.3 L445.4 37.1 L447.2 36.9 L449 36.7 L450.8 36.5 L456.5 36.1 L462.1 35.7 L467.7 35.5 L473.3 35.4 L479 35.3 L484.6 35.3 L490.2 35.3 L495.9 35.3 L501.5 35.4 L507.1 35.5 L512.7 35.6 L518.4 35.7 L524 35.9 L529.6 36.1 L535.2 36.3 L540.9 36.5 L546.5 36.6 L552.1 36.8 L557.7 37 L563.4 37.1 L569 37.3 L574.6 37.5 L580.3 37.7 L585.9 37.9 L591.5 38.1 L597.1 38.3 L602.8 38.5 L608.4 38.7 L614 38.9 L619.6 39.2 L625.3 39.4 L630.9 39.6" stroke="#00ffff" stroke-width="1.6" stroke-dasharray="1.6 6.9"/>
</g>
<g class="b" font-family="'Liberation Sans', Arial, sans-serif" font-weight="bold" font-size="11.8" fill="#000">
<text x="360.2" y="219" text-anchor="middle">0</text>
<text x="382.71" y="219" text-anchor="middle">1</text>
<text x="405.22" y="219" text-anchor="middle">2</text>
<text x="427.72" y="219" text-anchor="middle">3</text>
<text x="450.23" y="219" text-anchor="middle">4</text>
<text x="472.74" y="219" text-anchor="middle">5</text>
<text x="495.25" y="219" text-anchor="middle">6</text>
<text x="517.76" y="219" text-anchor="middle">7</text>
<text x="540.27" y="219" text-anchor="middle">8</text>
<text x="562.77" y="219" text-anchor="middle">9</text>
<text x="585.28" y="219" text-anchor="middle">10</text>
<text x="607.79" y="219" text-anchor="middle">11</text>
<text x="630.3" y="219" text-anchor="middle">12</text>
<text x="355.9" y="209" text-anchor="end">0</text>
<text x="355.9" y="180" text-anchor="end">10</text>
<text x="355.9" y="152" text-anchor="end">20</text>
<text x="355.9" y="123" text-anchor="end">30</text>
<text x="355.9" y="94" text-anchor="end">40</text>
<text x="355.9" y="66" text-anchor="end">50</text>
<text x="355.9" y="37" text-anchor="end">60</text>
<text x="355.9" y="9" text-anchor="end">70</text>
</g>
<g class="b" font-family="'Liberation Sans', Arial, sans-serif" font-weight="bold" font-size="9.55" fill="#000">
<text x="363.5" y="15.6">Solid: CW</text>
<text x="363.5" y="27.8">Dash: Pulse width=10 <tspan class="mu" dx="0.7">μ</tspan>s</text>
<text x="363.5" y="40.3">Dot: Pulse width=500 ns</text>
</g>
<g class="b" font-family="'Liberation Sans', Arial, sans-serif" font-weight="bold" font-size="8.55" fill="#000">
<text x="624" y="19.1" text-anchor="end">W=50 <tspan class="mu" dx="0.7">μ</tspan>m, nr=2 @ r=1.5 cm</text>
<text x="621.7" y="33.3" font-size="8.65" text-anchor="end">V<tspan font-size="5.3" dy="3.8">G</tspan><tspan dy="-3.8">=-2~0 V, step 0.5 V</tspan></text>
</g>
<text class="b" x="481" y="233.5" font-family="'Liberation Sans', Arial, sans-serif" font-weight="bold" font-size="12.2" fill="#000">V<tspan font-size="6.9" dy="4.7">D</tspan><tspan dy="-4.7"> (V)</tspan></text>
<text class="b" transform="translate(331.3 126.93) rotate(-90) scale(1.085 1)" font-family="'Liberation Sans', Arial, sans-serif" font-weight="bold" font-size="11.8" fill="#000">I<tspan font-size="6.6" dy="4.7">D</tspan><tspan dy="-4.7"> (mA)</tspan></text>
<text x="487.3" y="260.4" text-anchor="middle" font-family="'Liberation Serif', 'Times New Roman', serif" font-size="17.3" fill="#000">(b)</text>
</g>
<g id="panel-c">
<clipPath id="clip-c"><rect x="39" y="283.15" width="267.85" height="200.45"/></clipPath>
<path d="M39.5 483.1v-4.2M39.5 283.65v4.2M50.62 483.1v-2.2M50.62 283.65v2.2M61.74 483.1v-4.2M61.74 283.65v4.2M72.86 483.1v-2.2M72.86 283.65v2.2M83.97 483.1v-4.2M83.97 283.65v4.2M95.09 483.1v-2.2M95.09 283.65v2.2M106.21 483.1v-4.2M106.21 283.65v4.2M117.33 483.1v-2.2M117.33 283.65v2.2M128.45 483.1v-4.2M128.45 283.65v4.2M139.57 483.1v-2.2M139.57 283.65v2.2M150.69 483.1v-4.2M150.69 283.65v4.2M161.81 483.1v-2.2M161.81 283.65v2.2M172.93 483.1v-4.2M172.93 283.65v4.2M184.04 483.1v-2.2M184.04 283.65v2.2M195.16 483.1v-4.2M195.16 283.65v4.2M206.28 483.1v-2.2M206.28 283.65v2.2M217.4 483.1v-4.2M217.4 283.65v4.2M228.52 483.1v-2.2M228.52 283.65v2.2M239.64 483.1v-4.2M239.64 283.65v4.2M250.76 483.1v-2.2M250.76 283.65v2.2M261.88 483.1v-4.2M261.88 283.65v4.2M272.99 483.1v-2.2M272.99 283.65v2.2M284.11 483.1v-4.2M284.11 283.65v4.2M295.23 483.1v-2.2M295.23 283.65v2.2M306.35 483.1v-4.2M306.35 283.65v4.2M39.5 483.1h4.2M306.35 483.1h-4.2M39.5 468.85h2.2M306.35 468.85h-2.2M39.5 454.61h4.2M306.35 454.61h-4.2M39.5 440.36h2.2M306.35 440.36h-2.2M39.5 426.11h4.2M306.35 426.11h-4.2M39.5 411.87h2.2M306.35 411.87h-2.2M39.5 397.62h4.2M306.35 397.62h-4.2M39.5 383.38h2.2M306.35 383.38h-2.2M39.5 369.13h4.2M306.35 369.13h-4.2M39.5 354.88h2.2M306.35 354.88h-2.2M39.5 340.64h4.2M306.35 340.64h-4.2M39.5 326.39h2.2M306.35 326.39h-2.2M39.5 312.14h4.2M306.35 312.14h-4.2M39.5 297.9h2.2M306.35 297.9h-2.2M39.5 283.65h4.2M306.35 283.65h-4.2" stroke="#000" stroke-width="1.1" fill="none"/>
<rect x="39.5" y="283.65" width="266.85" height="199.45" fill="none" stroke="#000" stroke-width="1"/>
<g clip-path="url(#clip-c)" fill="none" stroke-linejoin="round">
<path d="M39.5 483.1 L41.3 482.1 L43.1 481 L44.8 480 L46.6 479 L48.4 477.9 L50.2 476.9 L52 475.9 L53.7 474.9 L55.5 473.9 L57.3 473 L59.1 472.2 L60.8 471.5 L62.6 470.8 L64.4 470.3 L66.2 469.8 L68 469.4 L69.7 469.1 L71.5 468.9 L73.3 468.6 L75.1 468.4 L76.9 468.3 L78.6 468.2 L80.4 468.1 L82.2 468 L84 467.9 L85.8 467.8 L87.5 467.7 L89.3 467.7 L91.1 467.6 L92.9 467.6 L94.6 467.5 L96.4 467.5 L98.2 467.5 L100 467.4 L101.8 467.4 L103.5 467.4 L105.3 467.4 L107.1 467.3 L108.9 467.3 L110.7 467.3 L112.4 467.3 L114.2 467.3 L116 467.3 L117.8 467.2 L119.6 467.2 L121.3 467.2 L123.1 467.2 L124.9 467.2 L126.7 467.2 L128.4 467.1 L134 467.1 L139.6 467.1 L145.1 467 L150.7 467 L156.2 467 L161.8 466.9 L167.4 466.9 L172.9 466.9 L178.5 466.9 L184 466.9 L189.6 466.9 L195.2 466.9 L200.7 466.9 L206.3 466.9 L211.8 466.9 L217.4 466.9 L223 466.9 L228.5 466.9 L234.1 466.9 L239.6 466.9 L245.2 466.9 L250.8 466.9 L256.3 466.9 L261.9 466.9 L267.4 466.9 L273 466.9 L278.6 466.9 L284.1 466.9 L289.7 466.9 L295.2 466.9 L300.8 467 L306.4 467" stroke="#000000" stroke-width="1.9"/>
<path d="M39.5 483.1 L41.3 480.6 L43.1 478.1 L44.8 475.5 L46.6 473 L48.4 470.5 L50.2 467.9 L52 465.4 L53.7 462.8 L55.5 460.3 L57.3 457.9 L59.1 455.6 L60.8 453.6 L62.6 451.7 L64.4 450.1 L66.2 448.7 L68 447.4 L69.7 446.3 L71.5 445.5 L73.3 444.8 L75.1 444.2 L76.9 443.8 L78.6 443.4 L80.4 443.1 L82.2 442.9 L84 442.7 L85.8 442.6 L87.5 442.5 L89.3 442.4 L91.1 442.3 L92.9 442.2 L94.6 442.2 L96.4 442.1 L98.2 442.1 L100 442 L101.8 442 L103.5 442 L105.3 441.9 L107.1 441.9 L108.9 441.9 L110.7 441.9 L112.4 441.9 L114.2 441.9 L116 441.8 L117.8 441.8 L119.6 441.8 L121.3 441.8 L123.1 441.8 L124.9 441.8 L126.7 441.8 L128.4 441.8 L134 441.8 L139.6 441.8 L145.1 441.8 L150.7 441.8 L156.2 441.8 L161.8 441.8 L167.4 441.8 L172.9 441.8 L178.5 441.8 L184 441.9 L189.6 442 L195.2 442.2 L200.7 442.4 L206.3 442.5 L211.8 442.7 L217.4 442.9 L223 443.1 L228.5 443.3 L234.1 443.5 L239.6 443.8 L245.2 444 L250.8 444.3 L256.3 444.5 L261.9 444.8 L267.4 445 L273 445.3 L278.6 445.6 L284.1 445.9 L289.7 446.2 L295.2 446.5 L300.8 446.9 L306.4 447.2" stroke="#ff0000" stroke-width="1.9"/>
<path d="M39.5 483.1 L41.3 479.2 L43.1 475.2 L44.8 471.3 L46.6 467.5 L48.4 463.6 L50.2 459.8 L52 456.1 L53.7 452.4 L55.5 448.7 L57.3 445.3 L59.1 442 L60.8 438.9 L62.6 436.1 L64.4 433.5 L66.2 431.2 L68 429.1 L69.7 427.1 L71.5 425.5 L73.3 424 L75.1 422.6 L76.9 421.5 L78.6 420.5 L80.4 419.6 L82.2 418.9 L84 418.3 L85.8 417.8 L87.5 417.4 L89.3 417 L91.1 416.8 L92.9 416.6 L94.6 416.4 L96.4 416.3 L98.2 416.3 L100 416.2 L101.8 416.2 L103.5 416.2 L105.3 416.2 L107.1 416.2 L108.9 416.2 L110.7 416.2 L112.4 416.3 L114.2 416.3 L116 416.4 L117.8 416.4 L119.6 416.5 L121.3 416.6 L123.1 416.6 L124.9 416.7 L126.7 416.8 L128.4 416.9 L134 417.1 L139.6 417.4 L145.1 417.7 L150.7 418 L156.2 418.4 L161.8 418.8 L167.4 419.2 L172.9 419.6 L178.5 419.9 L184 420.3 L189.6 420.7 L195.2 421.1 L200.7 421.5 L206.3 421.9 L211.8 422.3 L217.4 422.7 L223 423.2 L228.5 423.6 L234.1 424.1 L239.6 424.6 L245.2 425.1 L250.8 425.6 L256.3 426.2 L261.9 426.7 L267.4 427.2 L273 427.7 L278.6 428.3 L284.1 428.8 L289.7 429.4 L295.2 430 L300.8 430.5 L306.4 431.1" stroke="#00ff00" stroke-width="1.9"/>
<path d="M39.5 483.1 L41.3 478.5 L43.1 473.9 L44.8 469.3 L46.6 464.8 L48.4 460.2 L50.2 455.7 L52 451.1 L53.7 446.7 L55.5 442.3 L57.3 438 L59.1 433.9 L60.8 430.2 L62.6 426.7 L64.4 423.4 L66.2 420.5 L68 417.8 L69.7 415.2 L71.5 412.9 L73.3 410.7 L75.1 408.6 L76.9 406.7 L78.6 405 L80.4 403.4 L82.2 402 L84 400.7 L85.8 399.6 L87.5 398.6 L89.3 397.8 L91.1 397.1 L92.9 396.5 L94.6 396 L96.4 395.6 L98.2 395.3 L100 395 L101.8 394.8 L103.5 394.7 L105.3 394.6 L107.1 394.6 L108.9 394.6 L110.7 394.7 L112.4 394.8 L114.2 394.9 L116 395 L117.8 395.2 L119.6 395.4 L121.3 395.6 L123.1 395.8 L124.9 396 L126.7 396.2 L128.4 396.3 L134 397 L139.6 397.7 L145.1 398.5 L150.7 399.2 L156.2 399.8 L161.8 400.3 L167.4 400.9 L172.9 401.5 L178.5 402.1 L184 402.7 L189.6 403.4 L195.2 404 L200.7 404.7 L206.3 405.4 L211.8 406.1 L217.4 406.7 L223 407.4 L228.5 408.1 L234.1 408.8 L239.6 409.4 L245.2 410.1 L250.8 410.8 L256.3 411.5 L261.9 412.2 L267.4 412.8 L273 413.5 L278.6 414.2 L284.1 414.9 L289.7 415.5 L295.2 416.2 L300.8 416.9 L306.4 417.6" stroke="#0000ff" stroke-width="1.9"/>
<path d="M39.5 483.1 L41.3 478.3 L43.1 473.4 L44.8 468.6 L46.6 463.9 L48.4 459.1 L50.2 454.4 L52 449.7 L53.7 445 L55.5 440.4 L57.3 435.9 L59.1 431.5 L60.8 427.2 L62.6 423.2 L64.4 419.3 L66.2 415.6 L68 412 L69.7 408.6 L71.5 405.4 L73.3 402.4 L75.1 399.4 L76.9 396.7 L78.6 394.1 L80.4 391.7 L82.2 389.5 L84 387.4 L85.8 385.6 L87.5 384 L89.3 382.5 L91.1 381.1 L92.9 380 L94.6 378.9 L96.4 378 L98.2 377.2 L100 376.5 L101.8 376 L103.5 375.5 L105.3 375.2 L107.1 375.1 L108.9 375 L110.7 375 L112.4 375 L114.2 375 L116 375.1 L117.8 375.2 L119.6 375.3 L121.3 375.4 L123.1 375.5 L124.9 375.6 L126.7 375.7 L128.4 375.9 L134 376.6 L139.6 377.6 L145.1 378.7 L150.7 379.8 L156.2 380.8 L161.8 381.7 L167.4 382.7 L172.9 383.7 L178.5 384.6 L184 385.6 L189.6 386.6 L195.2 387.5 L200.7 388.5 L206.3 389.4 L211.8 390.4 L217.4 391.4 L223 392.3 L228.5 393.3 L234.1 394.2 L239.6 395.1 L245.2 396.1 L250.8 397 L256.3 397.9 L261.9 398.8 L267.4 399.6 L273 400.4 L278.6 401.2 L284.1 402 L289.7 402.8 L295.2 403.6 L300.8 404.3 L306.4 405" stroke="#00ffff" stroke-width="1.9"/>
<path d="M39.5 483.1 L41.3 481.5 L43.1 479.9 L44.8 478.3 L46.6 476.7 L48.4 475.2 L50.2 473.7 L52 472.2 L53.7 470.7 L55.5 469.3 L57.3 468.1 L59.1 466.9 L60.8 465.9 L62.6 465 L64.4 464.3 L66.2 463.7 L68 463.2 L69.7 462.8 L71.5 462.5 L73.3 462.3 L75.1 462.1 L76.9 461.9 L78.6 461.8 L80.4 461.6 L82.2 461.5 L84 461.4 L85.8 461.3 L87.5 461.2 L89.3 461.1 L91.1 461 L92.9 460.9 L94.6 460.8 L96.4 460.7 L98.2 460.6 L100 460.5 L101.8 460.5 L103.5 460.4 L105.3 460.3 L107.1 460.3 L108.9 460.2 L110.7 460.2 L112.4 460.1 L114.2 460.1 L116 460.1 L117.8 460 L119.6 460 L121.3 460 L123.1 459.9 L124.9 459.9 L126.7 459.9 L128.4 459.9 L134 459.9 L139.6 460 L145.1 460.2 L150.7 460.3 L156.2 460.4 L161.8 460.6 L167.4 460.7 L172.9 460.7 L178.5 460.6 L184 460.5 L189.6 460.2 L195.2 459.9 L200.7 459.7 L206.3 459.4 L211.8 459.3 L217.4 459.2 L223 459.2 L228.5 459.4 L234.1 459.5 L239.6 459.7 L245.2 459.9 L250.8 460.1 L256.3 460.2 L261.9 460.3 L267.4 460.2 L273 459.9 L278.6 459.5 L284.1 459 L289.7 458.4 L295.2 457.7 L300.8 456.9 L306.4 456" stroke="#000000" stroke-width="2.0" stroke-dasharray="7.8 6.4"/>
<path d="M39.5 483.1 L41.3 479.6 L43.1 476.2 L44.8 472.8 L46.6 469.3 L48.4 465.9 L50.2 462.5 L52 459 L53.7 455.6 L55.5 452.3 L57.3 449.1 L59.1 446.2 L60.8 443.6 L62.6 441.2 L64.4 439.2 L66.2 437.5 L68 436 L69.7 434.7 L71.5 433.7 L73.3 432.9 L75.1 432.2 L76.9 431.7 L78.6 431.3 L80.4 431 L82.2 430.7 L84 430.4 L85.8 430.2 L87.5 430 L89.3 429.8 L91.1 429.6 L92.9 429.5 L94.6 429.3 L96.4 429.2 L98.2 429 L100 428.9 L101.8 428.8 L103.5 428.7 L105.3 428.6 L107.1 428.5 L108.9 428.4 L110.7 428.3 L112.4 428.2 L114.2 428.1 L116 428 L117.8 427.9 L119.6 427.8 L121.3 427.7 L123.1 427.6 L124.9 427.5 L126.7 427.5 L128.4 427.4 L134 427.3 L139.6 427.2 L145.1 427.1 L150.7 427 L156.2 426.9 L161.8 426.8 L167.4 426.7 L172.9 426.7 L178.5 426.7 L184 426.8 L189.6 426.9 L195.2 427.1 L200.7 427.2 L206.3 427.4 L211.8 427.6 L217.4 427.8 L223 428.1 L228.5 428.5 L234.1 428.9 L239.6 429.3 L245.2 429.7 L250.8 430 L256.3 430.3 L261.9 430.4 L267.4 430.3 L273 430.1 L278.6 429.8 L284.1 429.5 L289.7 429 L295.2 428.4 L300.8 427.7 L306.4 427" stroke="#ff0000" stroke-width="2.0" stroke-dasharray="7.8 6.4"/>
<path d="M39.5 483.1 L41.3 477.2 L43.1 471.3 L44.8 465.5 L46.6 459.9 L48.4 454.4 L50.2 449.1 L52 444 L53.7 439 L55.5 434.2 L57.3 429.7 L59.1 425.6 L60.8 421.7 L62.6 418.3 L64.4 415.2 L66.2 412.4 L68 409.9 L69.7 407.7 L71.5 405.7 L73.3 404 L75.1 402.4 L76.9 401.1 L78.6 399.9 L80.4 399 L82.2 398.3 L84 397.9 L85.8 397.6 L87.5 397.4 L89.3 397.4 L91.1 397.4 L92.9 397.4 L94.6 397.4 L96.4 397.4 L98.2 397.5 L100 397.6 L101.8 397.7 L103.5 397.8 L105.3 398 L107.1 398.1 L108.9 398.2 L110.7 398.3 L112.4 398.4 L114.2 398.5 L116 398.6 L117.8 398.7 L119.6 398.8 L121.3 398.9 L123.1 399 L124.9 399 L126.7 399.1 L128.4 399.2 L134 399.3 L139.6 399.4 L145.1 399.5 L150.7 399.6 L156.2 399.7 L161.8 399.8 L167.4 399.8 L172.9 399.9 L178.5 400 L184 400.2 L189.6 400.4 L195.2 400.6 L200.7 400.7 L206.3 400.9 L211.8 401 L217.4 401 L223 401 L228.5 401 L234.1 400.9 L239.6 400.9 L245.2 400.8 L250.8 400.8 L256.3 400.8 L261.9 400.8 L267.4 400.8 L273 401 L278.6 401.3 L284.1 401.6 L289.7 402 L295.2 402.5 L300.8 402.9 L306.4 403.5" stroke="#00ff00" stroke-width="2.0" stroke-dasharray="7.8 6.4"/>
<path d="M39.5 483.1 L41.3 475.5 L43.1 467.9 L44.8 460.3 L46.6 452.8 L48.4 445.3 L50.2 437.8 L52 430.3 L53.7 422.9 L55.5 415.7 L57.3 408.8 L59.1 402.2 L60.8 396.2 L62.6 390.7 L64.4 385.7 L66.2 381.3 L68 377.4 L69.7 374.2 L71.5 371.5 L73.3 369.3 L75.1 367.7 L76.9 366.4 L78.6 365.4 L80.4 364.7 L82.2 364.1 L84 363.7 L85.8 363.4 L87.5 363.2 L89.3 363 L91.1 362.9 L92.9 362.8 L94.6 362.8 L96.4 362.7 L98.2 362.7 L100 362.6 L101.8 362.6 L103.5 362.6 L105.3 362.6 L107.1 362.6 L108.9 362.6 L110.7 362.6 L112.4 362.6 L114.2 362.6 L116 362.6 L117.8 362.7 L119.6 362.7 L121.3 362.7 L123.1 362.8 L124.9 362.8 L126.7 362.8 L128.4 362.9 L134 363.1 L139.6 363.5 L145.1 364 L150.7 364.4 L156.2 364.9 L161.8 365.3 L167.4 365.8 L172.9 366.3 L178.5 366.7 L184 367.2 L189.6 367.7 L195.2 368.1 L200.7 368.6 L206.3 369.1 L211.8 369.6 L217.4 370.1 L223 370.7 L228.5 371.2 L234.1 371.8 L239.6 372.4 L245.2 373 L250.8 373.6 L256.3 374.2 L261.9 374.8 L267.4 375.4 L273 376.1 L278.6 376.7 L284.1 377.3 L289.7 378 L295.2 378.6 L300.8 379.3 L306.4 380" stroke="#0000ff" stroke-width="2.0" stroke-dasharray="7.8 6.4"/>
<path d="M39.5 483.1 L41.3 474.7 L43.1 466.3 L44.8 458.1 L46.6 449.9 L48.4 441.8 L50.2 433.9 L52 426 L53.7 418.2 L55.5 410.7 L57.3 403.6 L59.1 396.9 L60.8 390.7 L62.6 385.2 L64.4 380.2 L66.2 375.7 L68 371.7 L69.7 368.1 L71.5 365 L73.3 362.3 L75.1 359.9 L76.9 357.8 L78.6 356 L80.4 354.4 L82.2 352.9 L84 351.7 L85.8 350.5 L87.5 349.5 L89.3 348.6 L91.1 347.9 L92.9 347.2 L94.6 346.7 L96.4 346.3 L98.2 345.9 L100 345.7 L101.8 345.5 L103.5 345.3 L105.3 345.2 L107.1 345.2 L108.9 345.2 L110.7 345.3 L112.4 345.4 L114.2 345.5 L116 345.7 L117.8 345.9 L119.6 346.1 L121.3 346.3 L123.1 346.5 L124.9 346.7 L126.7 346.8 L128.4 347 L134 347.5 L139.6 348 L145.1 348.4 L150.7 348.9 L156.2 349.4 L161.8 349.9 L167.4 350.4 L172.9 350.9 L178.5 351.4 L184 351.9 L189.6 352.4 L195.2 353 L200.7 353.5 L206.3 354.1 L211.8 354.6 L217.4 355.2 L223 355.7 L228.5 356.3 L234.1 356.9 L239.6 357.5 L245.2 358.1 L250.8 358.7 L256.3 359.4 L261.9 360 L267.4 360.7 L273 361.3 L278.6 362 L284.1 362.7 L289.7 363.4 L295.2 364.1 L300.8 364.8 L306.4 365.6" stroke="#00ffff" stroke-width="2.0" stroke-dasharray="7.8 6.4"/>
<path d="M39.5 483.1 L41.3 481.4 L43.1 479.7 L44.8 478 L46.6 476.4 L48.4 474.8 L50.2 473.3 L52 471.8 L53.7 470.3 L55.5 468.9 L57.3 467.6 L59.1 466.5 L60.8 465.5 L62.6 464.6 L64.4 463.9 L66.2 463.4 L68 462.9 L69.7 462.5 L71.5 462.2 L73.3 462 L75.1 461.8 L76.9 461.6 L78.6 461.5 L80.4 461.4 L82.2 461.3 L84 461.2 L85.8 461.1 L87.5 461 L89.3 460.9 L91.1 460.8 L92.9 460.7 L94.6 460.6 L96.4 460.5 L98.2 460.5 L100 460.4 L101.8 460.3 L103.5 460.3 L105.3 460.2 L107.1 460.1 L108.9 460.1 L110.7 460.1 L112.4 460 L114.2 460 L116 459.9 L117.8 459.9 L119.6 459.8 L121.3 459.8 L123.1 459.8 L124.9 459.7 L126.7 459.6 L128.4 459.5 L134 459.2 L139.6 458.7 L145.1 458.1 L150.7 457.5 L156.2 456.8 L161.8 456.2 L167.4 455.6 L172.9 455.2 L178.5 454.9 L184 454.6 L189.6 454.4 L195.2 454.2 L200.7 454 L206.3 453.9 L211.8 453.8 L217.4 453.8 L223 453.9 L228.5 454.3 L234.1 454.7 L239.6 455.2 L245.2 455.8 L250.8 456.2 L256.3 456.6 L261.9 456.7 L267.4 456.6 L273 456.4 L278.6 456.1 L284.1 455.7 L289.7 455.1 L295.2 454.4 L300.8 453.6 L306.4 452.7" stroke="#000000" stroke-width="1.6" stroke-dasharray="1.6 6.9"/>
<path d="M39.5 483.1 L41.3 479.1 L43.1 475.2 L44.8 471.3 L46.6 467.4 L48.4 463.6 L50.2 459.9 L52 456.1 L53.7 452.5 L55.5 449 L57.3 445.6 L59.1 442.5 L60.8 439.6 L62.6 436.9 L64.4 434.5 L66.2 432.4 L68 430.6 L69.7 429 L71.5 427.7 L73.3 426.7 L75.1 425.9 L76.9 425.3 L78.6 424.9 L80.4 424.5 L82.2 424.2 L84 423.9 L85.8 423.7 L87.5 423.5 L89.3 423.3 L91.1 423.2 L92.9 423 L94.6 422.9 L96.4 422.8 L98.2 422.7 L100 422.6 L101.8 422.5 L103.5 422.4 L105.3 422.3 L107.1 422.2 L108.9 422.2 L110.7 422.1 L112.4 422.1 L114.2 422 L116 422 L117.8 421.9 L119.6 421.8 L121.3 421.8 L123.1 421.7 L124.9 421.7 L126.7 421.6 L128.4 421.5 L134 421.3 L139.6 421 L145.1 420.6 L150.7 420.2 L156.2 419.6 L161.8 419 L167.4 418.4 L172.9 418.1 L178.5 418.1 L184 418.3 L189.6 418.6 L195.2 418.9 L200.7 419.2 L206.3 419.5 L211.8 419.7 L217.4 419.8 L223 419.7 L228.5 419.4 L234.1 419 L239.6 418.6 L245.2 418.1 L250.8 417.7 L256.3 417.4 L261.9 417.3 L267.4 417.3 L273 417.4 L278.6 417.5 L284.1 417.7 L289.7 418 L295.2 418.3 L300.8 418.7 L306.4 419.1" stroke="#ff0000" stroke-width="1.6" stroke-dasharray="1.6 6.9"/>
<path d="M39.5 483.1 L41.3 475.9 L43.1 468.8 L44.8 461.9 L46.6 455.2 L48.4 448.7 L50.2 442.4 L52 436.4 L53.7 430.6 L55.5 425.1 L57.3 419.9 L59.1 415.1 L60.8 410.6 L62.6 406.5 L64.4 402.8 L66.2 399.5 L68 396.6 L69.7 394.1 L71.5 392.1 L73.3 390.6 L75.1 389.4 L76.9 388.4 L78.6 387.7 L80.4 387.2 L82.2 386.7 L84 386.3 L85.8 386 L87.5 385.7 L89.3 385.5 L91.1 385.3 L92.9 385.1 L94.6 384.9 L96.4 384.7 L98.2 384.6 L100 384.5 L101.8 384.3 L103.5 384.2 L105.3 384.2 L107.1 384.1 L108.9 384 L110.7 383.9 L112.4 383.8 L114.2 383.8 L116 383.7 L117.8 383.6 L119.6 383.6 L121.3 383.5 L123.1 383.5 L124.9 383.4 L126.7 383.3 L128.4 383.2 L134 382.9 L139.6 382.4 L145.1 382 L150.7 381.5 L156.2 381 L161.8 380.4 L167.4 379.9 L172.9 379.7 L178.5 379.7 L184 379.7 L189.6 379.8 L195.2 379.9 L200.7 379.9 L206.3 380 L211.8 380.1 L217.4 380.2 L223 380.4 L228.5 380.5 L234.1 380.7 L239.6 380.8 L245.2 381 L250.8 381.2 L256.3 381.4 L261.9 381.7 L267.4 381.9 L273 382.1 L278.6 382.4 L284.1 382.7 L289.7 383 L295.2 383.3 L300.8 383.6 L306.4 383.9" stroke="#00ff00" stroke-width="1.6" stroke-dasharray="1.6 6.9"/>
<path d="M39.5 483.1 L41.3 474.2 L43.1 465.4 L44.8 456.7 L46.6 448.1 L48.4 439.5 L50.2 431 L52 422.5 L53.7 414.2 L55.5 406.2 L57.3 398.7 L59.1 391.7 L60.8 385.6 L62.6 380.2 L64.4 375.7 L66.2 371.7 L68 368.3 L69.7 365.5 L71.5 363 L73.3 361 L75.1 359.3 L76.9 357.8 L78.6 356.5 L80.4 355.5 L82.2 354.5 L84 353.7 L85.8 352.9 L87.5 352.2 L89.3 351.6 L91.1 351 L92.9 350.6 L94.6 350.1 L96.4 349.7 L98.2 349.4 L100 349.1 L101.8 348.9 L103.5 348.7 L105.3 348.5 L107.1 348.4 L108.9 348.2 L110.7 348.2 L112.4 348.1 L114.2 348 L116 348 L117.8 347.9 L119.6 347.9 L121.3 347.8 L123.1 347.8 L124.9 347.8 L126.7 347.8 L128.4 347.8 L134 347.9 L139.6 348.1 L145.1 348.5 L150.7 348.7 L156.2 349 L161.8 349.3 L167.4 349.5 L172.9 349.7 L178.5 349.9 L184 350.1 L189.6 350.2 L195.2 350.4 L200.7 350.5 L206.3 350.6 L211.8 350.8 L217.4 350.9 L223 351 L228.5 351.2 L234.1 351.3 L239.6 351.4 L245.2 351.6 L250.8 351.7 L256.3 351.7 L261.9 351.7 L267.4 351.7 L273 351.7 L278.6 351.6 L284.1 351.5 L289.7 351.4 L295.2 351.3 L300.8 351.1 L306.4 350.9" stroke="#0000ff" stroke-width="1.6" stroke-dasharray="1.6 6.9"/>
<path d="M39.5 483.1 L41.3 472.7 L43.1 462.4 L44.8 452.2 L46.6 442.3 L48.4 432.6 L50.2 423.1 L52 413.9 L53.7 404.9 L55.5 396.3 L57.3 388.3 L59.1 380.9 L60.8 374.4 L62.6 368.6 L64.4 363.6 L66.2 359.3 L68 355.4 L69.7 352.1 L71.5 349.1 L73.3 346.4 L75.1 344 L76.9 341.9 L78.6 340 L80.4 338.2 L82.2 336.7 L84 335.3 L85.8 334.1 L87.5 333 L89.3 332 L91.1 331.1 L92.9 330.3 L94.6 329.6 L96.4 329 L98.2 328.5 L100 328 L101.8 327.6 L103.5 327.2 L105.3 326.9 L107.1 326.6 L108.9 326.4 L110.7 326.2 L112.4 326 L114.2 325.8 L116 325.6 L117.8 325.5 L119.6 325.4 L121.3 325.2 L123.1 325.2 L124.9 325.1 L126.7 325.1 L128.4 325 L134 325.2 L139.6 325.5 L145.1 325.9 L150.7 326.4 L156.2 326.8 L161.8 327.3 L167.4 327.7 L172.9 328.1 L178.5 328.3 L184 328.5 L189.6 328.7 L195.2 328.8 L200.7 329 L206.3 329.1 L211.8 329.2 L217.4 329.4 L223 329.5 L228.5 329.7 L234.1 329.8 L239.6 330 L245.2 330.1 L250.8 330.3 L256.3 330.5 L261.9 330.7 L267.4 330.9 L273 331.1 L278.6 331.3 L284.1 331.5 L289.7 331.8 L295.2 332 L300.8 332.3 L306.4 332.5" stroke="#00ffff" stroke-width="1.6" stroke-dasharray="1.6 6.9"/>
</g>
<g class="b" font-family="'Liberation Sans', Arial, sans-serif" font-weight="bold" font-size="11.8" fill="#000">
<text x="39.5" y="497" text-anchor="middle">0</text>
<text x="61.74" y="497" text-anchor="middle">1</text>
<text x="83.97" y="497" text-anchor="middle">2</text>
<text x="106.21" y="497" text-anchor="middle">3</text>
<text x="128.45" y="497" text-anchor="middle">4</text>
<text x="150.69" y="497" text-anchor="middle">5</text>
<text x="172.93" y="497" text-anchor="middle">6</text>
<text x="195.16" y="497" text-anchor="middle">7</text>
<text x="217.4" y="497" text-anchor="middle">8</text>
<text x="239.64" y="497" text-anchor="middle">9</text>
<text x="261.88" y="497" text-anchor="middle">10</text>
<text x="284.11" y="497" text-anchor="middle">11</text>
<text x="306.35" y="497" text-anchor="middle">12</text>
<text x="35.1" y="487" text-anchor="end">0</text>
<text x="35.1" y="458" text-anchor="end">20</text>
<text x="35.1" y="429" text-anchor="end">40</text>
<text x="35.1" y="401" text-anchor="end">60</text>
<text x="35.1" y="372" text-anchor="end">80</text>
<text x="35.1" y="344" text-anchor="end">100</text>
<text x="35.1" y="315" text-anchor="end">120</text>
<text x="35.1" y="286" text-anchor="end">140</text>
</g>
<g class="b" font-family="'Liberation Sans', Arial, sans-serif" font-weight="bold" font-size="9.4" fill="#000">
<text x="43" y="294">Solid: CW</text>
<text x="43" y="306">Dash: Pulse width=10 <tspan class="mu" dx="0.7">μ</tspan>s</text>
<text x="43" y="318">Dot: Pulse width=500 ns</text>
</g>
<g class="b" font-family="'Liberation Sans', Arial, sans-serif" font-weight="bold" font-size="8.45" fill="#000">
<text x="213.6" y="296.6" text-anchor="start">W=50 <tspan class="mu" dx="0.7">μ</tspan>m, nr=4, Flat</text>
<text x="213.6" y="310.7" font-size="8.55" text-anchor="start">V<tspan font-size="5.3" dy="3.8">G</tspan><tspan dy="-3.8">=-2~0 V, step 0.5 V</tspan></text>
</g>
<text class="b" x="158.4" y="511.2" font-family="'Liberation Sans', Arial, sans-serif" font-weight="bold" font-size="12.2" fill="#000">V<tspan font-size="6.9" dy="4.7">D</tspan><tspan dy="-4.7"> (V)</tspan></text>
<text class="b" transform="translate(12.9 404.77) rotate(-90) scale(1.085 1)" font-family="'Liberation Sans', Arial, sans-serif" font-weight="bold" font-size="11.8" fill="#000">I<tspan font-size="6.6" dy="4.7">D</tspan><tspan dy="-4.7"> (mA)</tspan></text>
<text x="177.3" y="540.4" text-anchor="middle" font-family="'Liberation Serif', 'Times New Roman', serif" font-size="17.3" fill="#000">(c)</text>
</g>
<g id="panel-d">
<clipPath id="clip-d"><rect x="362" y="283.1" width="267.9" height="200.6"/></clipPath>
<path d="M362.5 483.2v-4.2M362.5 283.6v4.2M373.62 483.2v-2.2M373.62 283.6v2.2M384.74 483.2v-4.2M384.74 283.6v4.2M395.86 483.2v-2.2M395.86 283.6v2.2M406.98 483.2v-4.2M406.98 283.6v4.2M418.1 483.2v-2.2M418.1 283.6v2.2M429.23 483.2v-4.2M429.23 283.6v4.2M440.35 483.2v-2.2M440.35 283.6v2.2M451.47 483.2v-4.2M451.47 283.6v4.2M462.59 483.2v-2.2M462.59 283.6v2.2M473.71 483.2v-4.2M473.71 283.6v4.2M484.83 483.2v-2.2M484.83 283.6v2.2M495.95 483.2v-4.2M495.95 283.6v4.2M507.07 483.2v-2.2M507.07 283.6v2.2M518.19 483.2v-4.2M518.19 283.6v4.2M529.31 483.2v-2.2M529.31 283.6v2.2M540.43 483.2v-4.2M540.43 283.6v4.2M551.55 483.2v-2.2M551.55 283.6v2.2M562.67 483.2v-4.2M562.67 283.6v4.2M573.8 483.2v-2.2M573.8 283.6v2.2M584.92 483.2v-4.2M584.92 283.6v4.2M596.04 483.2v-2.2M596.04 283.6v2.2M607.16 483.2v-4.2M607.16 283.6v4.2M618.28 483.2v-2.2M618.28 283.6v2.2M629.4 483.2v-4.2M629.4 283.6v4.2M362.5 483.2h4.2M629.4 483.2h-4.2M362.5 468.94h2.2M629.4 468.94h-2.2M362.5 454.69h4.2M629.4 454.69h-4.2M362.5 440.43h2.2M629.4 440.43h-2.2M362.5 426.17h4.2M629.4 426.17h-4.2M362.5 411.91h2.2M629.4 411.91h-2.2M362.5 397.66h4.2M629.4 397.66h-4.2M362.5 383.4h2.2M629.4 383.4h-2.2M362.5 369.14h4.2M629.4 369.14h-4.2M362.5 354.89h2.2M629.4 354.89h-2.2M362.5 340.63h4.2M629.4 340.63h-4.2M362.5 326.37h2.2M629.4 326.37h-2.2M362.5 312.11h4.2M629.4 312.11h-4.2M362.5 297.86h2.2M629.4 297.86h-2.2M362.5 283.6h4.2M629.4 283.6h-4.2" stroke="#000" stroke-width="1.1" fill="none"/>
<rect x="362.5" y="283.6" width="266.9" height="199.6" fill="none" stroke="#000" stroke-width="1"/>
<g clip-path="url(#clip-d)" fill="none" stroke-linejoin="round">
<path d="M362.5 483.2 L364.3 480.9 L366.1 478.7 L367.8 476.7 L369.6 475 L371.4 473.6 L373.2 472.5 L375 471.7 L376.7 471 L378.5 470.5 L380.3 470.1 L382.1 469.8 L383.9 469.6 L385.6 469.4 L387.4 469.2 L389.2 469.1 L391 468.9 L392.7 468.8 L394.5 468.7 L396.3 468.7 L398.1 468.6 L399.9 468.5 L401.6 468.5 L403.4 468.5 L405.2 468.4 L407 468.4 L408.8 468.3 L410.5 468.3 L412.3 468.3 L414.1 468.2 L415.9 468.2 L417.7 468.1 L419.4 468.1 L421.2 468.1 L423 468 L424.8 468 L426.6 468 L428.3 468 L430.1 467.9 L431.9 467.9 L433.7 467.9 L435.5 467.9 L437.2 467.9 L439 467.8 L440.8 467.8 L442.6 467.8 L444.3 467.8 L446.1 467.8 L447.9 467.8 L449.7 467.7 L451.5 467.7 L457 467.7 L462.6 467.6 L468.1 467.6 L473.7 467.5 L479.3 467.5 L484.8 467.5 L490.4 467.5 L495.9 467.4 L501.5 467.4 L507.1 467.4 L512.6 467.4 L518.2 467.4 L523.8 467.4 L529.3 467.4 L534.9 467.4 L540.4 467.4 L546 467.4 L551.6 467.4 L557.1 467.4 L562.7 467.4 L568.2 467.4 L573.8 467.4 L579.4 467.4 L584.9 467.4 L590.5 467.4 L596 467.4 L601.6 467.4 L607.2 467.4 L612.7 467.4 L618.3 467.4 L623.8 467.4 L629.4 467.4" stroke="#000000" stroke-width="1.9"/>
<path d="M362.5 483.2 L364.3 478.3 L366.1 473.5 L367.8 469 L369.6 464.8 L371.4 461.1 L373.2 457.9 L375 455.2 L376.7 452.9 L378.5 451 L380.3 449.5 L382.1 448.2 L383.9 447.2 L385.6 446.4 L387.4 445.8 L389.2 445.3 L391 444.9 L392.7 444.6 L394.5 444.4 L396.3 444.2 L398.1 444 L399.9 443.9 L401.6 443.7 L403.4 443.6 L405.2 443.5 L407 443.4 L408.8 443.4 L410.5 443.3 L412.3 443.2 L414.1 443.1 L415.9 443.1 L417.7 443 L419.4 442.9 L421.2 442.9 L423 442.8 L424.8 442.8 L426.6 442.8 L428.3 442.7 L430.1 442.7 L431.9 442.7 L433.7 442.7 L435.5 442.7 L437.2 442.6 L439 442.6 L440.8 442.6 L442.6 442.6 L444.3 442.6 L446.1 442.6 L447.9 442.6 L449.7 442.6 L451.5 442.6 L457 442.5 L462.6 442.5 L468.1 442.4 L473.7 442.4 L479.3 442.3 L484.8 442.3 L490.4 442.3 L495.9 442.3 L501.5 442.3 L507.1 442.4 L512.6 442.4 L518.2 442.5 L523.8 442.6 L529.3 442.7 L534.9 442.9 L540.4 443 L546 443.2 L551.6 443.3 L557.1 443.6 L562.7 443.8 L568.2 444.1 L573.8 444.3 L579.4 444.6 L584.9 444.8 L590.5 445.1 L596 445.4 L601.6 445.6 L607.2 445.9 L612.7 446.2 L618.3 446.4 L623.8 446.7 L629.4 447" stroke="#ff0000" stroke-width="1.9"/>
<path d="M362.5 483.2 L364.3 478 L366.1 472.8 L367.8 467.7 L369.6 462.7 L371.4 457.9 L373.2 453.1 L375 448.4 L376.7 443.9 L378.5 439.6 L380.3 435.6 L382.1 432.1 L383.9 429 L385.6 426.5 L387.4 424.4 L389.2 422.7 L391 421.4 L392.7 420.3 L394.5 419.4 L396.3 418.8 L398.1 418.4 L399.9 418 L401.6 417.8 L403.4 417.6 L405.2 417.5 L407 417.4 L408.8 417.3 L410.5 417.3 L412.3 417.3 L414.1 417.2 L415.9 417.2 L417.7 417.2 L419.4 417.2 L421.2 417.2 L423 417.2 L424.8 417.3 L426.6 417.3 L428.3 417.3 L430.1 417.4 L431.9 417.4 L433.7 417.4 L435.5 417.5 L437.2 417.5 L439 417.6 L440.8 417.7 L442.6 417.7 L444.3 417.8 L446.1 417.8 L447.9 417.9 L449.7 418 L451.5 418 L457 418.3 L462.6 418.5 L468.1 418.8 L473.7 419 L479.3 419.3 L484.8 419.5 L490.4 419.7 L495.9 419.9 L501.5 420.2 L507.1 420.5 L512.6 420.8 L518.2 421.2 L523.8 421.5 L529.3 421.9 L534.9 422.3 L540.4 422.8 L546 423.2 L551.6 423.7 L557.1 424.3 L562.7 424.8 L568.2 425.4 L573.8 426 L579.4 426.5 L584.9 427 L590.5 427.5 L596 428 L601.6 428.5 L607.2 428.9 L612.7 429.4 L618.3 429.9 L623.8 430.3 L629.4 430.7" stroke="#00ff00" stroke-width="1.9"/>
<path d="M362.5 483.2 L364.3 477.6 L366.1 472 L367.8 466.5 L369.6 461 L371.4 455.7 L373.2 450.4 L375 445.2 L376.7 440.1 L378.5 435.1 L380.3 430.4 L382.1 426 L383.9 422 L385.6 418.3 L387.4 415 L389.2 412 L391 409.3 L392.7 406.9 L394.5 404.8 L396.3 402.9 L398.1 401.3 L399.9 399.9 L401.6 398.7 L403.4 397.6 L405.2 396.7 L407 396 L408.8 395.4 L410.5 395 L412.3 394.6 L414.1 394.3 L415.9 394.1 L417.7 394 L419.4 394 L421.2 394 L423 394.1 L424.8 394.2 L426.6 394.3 L428.3 394.4 L430.1 394.6 L431.9 394.7 L433.7 394.9 L435.5 395 L437.2 395.1 L439 395.3 L440.8 395.4 L442.6 395.6 L444.3 395.7 L446.1 395.9 L447.9 396.1 L449.7 396.2 L451.5 396.4 L457 396.9 L462.6 397.5 L468.1 398.2 L473.7 398.8 L479.3 399.5 L484.8 400.2 L490.4 400.8 L495.9 401.5 L501.5 402.1 L507.1 402.7 L512.6 403.3 L518.2 403.9 L523.8 404.4 L529.3 405 L534.9 405.6 L540.4 406.2 L546 406.8 L551.6 407.5 L557.1 408.1 L562.7 408.8 L568.2 409.5 L573.8 410.1 L579.4 410.8 L584.9 411.5 L590.5 412.2 L596 412.8 L601.6 413.5 L607.2 414.2 L612.7 414.9 L618.3 415.5 L623.8 416.2 L629.4 416.9" stroke="#0000ff" stroke-width="1.9"/>
<path d="M362.5 483.2 L364.3 477.4 L366.1 471.6 L367.8 465.9 L369.6 460.2 L371.4 454.6 L373.2 449 L375 443.4 L376.7 437.9 L378.5 432.6 L380.3 427.4 L382.1 422.5 L383.9 417.9 L385.6 413.7 L387.4 409.9 L389.2 406.3 L391 403.1 L392.7 400 L394.5 397.2 L396.3 394.6 L398.1 392.1 L399.9 389.8 L401.6 387.7 L403.4 385.8 L405.2 384 L407 382.4 L408.8 381 L410.5 379.7 L412.3 378.5 L414.1 377.6 L415.9 376.7 L417.7 376 L419.4 375.5 L421.2 375 L423 374.7 L424.8 374.4 L426.6 374.2 L428.3 374.1 L430.1 374 L431.9 374 L433.7 374.1 L435.5 374.2 L437.2 374.3 L439 374.4 L440.8 374.6 L442.6 374.8 L444.3 375 L446.1 375.2 L447.9 375.4 L449.7 375.6 L451.5 375.9 L457 376.6 L462.6 377.5 L468.1 378.4 L473.7 379.4 L479.3 380.4 L484.8 381.4 L490.4 382.4 L495.9 383.4 L501.5 384.4 L507.1 385.5 L512.6 386.5 L518.2 387.6 L523.8 388.6 L529.3 389.7 L534.9 390.7 L540.4 391.7 L546 392.6 L551.6 393.6 L557.1 394.5 L562.7 395.4 L568.2 396.3 L573.8 397.1 L579.4 398 L584.9 398.8 L590.5 399.6 L596 400.4 L601.6 401.1 L607.2 401.9 L612.7 402.6 L618.3 403.3 L623.8 404 L629.4 404.6" stroke="#00ffff" stroke-width="1.9"/>
<path d="M362.5 483.2 L364.3 482 L366.1 480.7 L367.8 479.5 L369.6 478.3 L371.4 477.1 L373.2 475.9 L375 474.7 L376.7 473.6 L378.5 472.4 L380.3 471.3 L382.1 470.3 L383.9 469.4 L385.6 468.5 L387.4 467.8 L389.2 467.1 L391 466.5 L392.7 466 L394.5 465.5 L396.3 465.1 L398.1 464.7 L399.9 464.4 L401.6 464.1 L403.4 463.8 L405.2 463.5 L407 463.3 L408.8 463.1 L410.5 462.8 L412.3 462.7 L414.1 462.5 L415.9 462.3 L417.7 462.2 L419.4 462 L421.2 461.9 L423 461.8 L424.8 461.7 L426.6 461.7 L428.3 461.6 L430.1 461.6 L431.9 461.6 L433.7 461.6 L435.5 461.7 L437.2 461.8 L439 461.8 L440.8 461.9 L442.6 462 L444.3 462 L446.1 462.1 L447.9 462.2 L449.7 462.2 L451.5 462.2 L457 462.1 L462.6 462 L468.1 461.8 L473.7 461.5 L479.3 461.1 L484.8 460.6 L490.4 460.2 L495.9 460 L501.5 460 L507.1 460 L512.6 460.1 L518.2 460.2 L523.8 460.3 L529.3 460.3 L534.9 460.4 L540.4 460.4 L546 460.3 L551.6 460.3 L557.1 460.1 L562.7 460 L568.2 459.8 L573.8 459.6 L579.4 459.4 L584.9 459.3 L590.5 459.1 L596 458.9 L601.6 458.8 L607.2 458.6 L612.7 458.5 L618.3 458.3 L623.8 458.1 L629.4 458" stroke="#000000" stroke-width="2.0" stroke-dasharray="7.8 6.4"/>
<path d="M362.5 483.2 L364.3 479.4 L366.1 475.7 L367.8 472 L369.6 468.3 L371.4 464.8 L373.2 461.3 L375 457.9 L376.7 454.6 L378.5 451.5 L380.3 448.5 L382.1 445.9 L383.9 443.5 L385.6 441.5 L387.4 439.8 L389.2 438.4 L391 437.2 L392.7 436.2 L394.5 435.3 L396.3 434.6 L398.1 434 L399.9 433.5 L401.6 433.1 L403.4 432.8 L405.2 432.5 L407 432.2 L408.8 432 L410.5 431.8 L412.3 431.6 L414.1 431.5 L415.9 431.3 L417.7 431.2 L419.4 431.1 L421.2 431 L423 430.8 L424.8 430.7 L426.6 430.6 L428.3 430.5 L430.1 430.4 L431.9 430.3 L433.7 430.2 L435.5 430.1 L437.2 430 L439 429.9 L440.8 429.8 L442.6 429.8 L444.3 429.7 L446.1 429.6 L447.9 429.5 L449.7 429.4 L451.5 429.3 L457 429 L462.6 428.6 L468.1 428.3 L473.7 428.2 L479.3 428.3 L484.8 428.4 L490.4 428.5 L495.9 428.6 L501.5 428.6 L507.1 428.6 L512.6 428.6 L518.2 428.6 L523.8 428.6 L529.3 428.6 L534.9 428.6 L540.4 428.6 L546 428.7 L551.6 429 L557.1 429.4 L562.7 429.8 L568.2 430.2 L573.8 430.6 L579.4 430.9 L584.9 431 L590.5 431 L596 431 L601.6 431 L607.2 431 L612.7 431 L618.3 431 L623.8 431 L629.4 431" stroke="#ff0000" stroke-width="2.0" stroke-dasharray="7.8 6.4"/>
<path d="M362.5 483.2 L364.3 476.7 L366.1 470.4 L367.8 464.1 L369.6 458 L371.4 452.2 L373.2 446.5 L375 441 L376.7 435.7 L378.5 430.6 L380.3 425.9 L382.1 421.6 L383.9 417.8 L385.6 414.4 L387.4 411.4 L389.2 408.8 L391 406.5 L392.7 404.6 L394.5 402.9 L396.3 401.4 L398.1 400.2 L399.9 399.1 L401.6 398.3 L403.4 397.5 L405.2 397 L407 396.6 L408.8 396.2 L410.5 396 L412.3 395.9 L414.1 395.7 L415.9 395.6 L417.7 395.6 L419.4 395.5 L421.2 395.4 L423 395.4 L424.8 395.3 L426.6 395.3 L428.3 395.3 L430.1 395.2 L431.9 395.2 L433.7 395.2 L435.5 395.1 L437.2 395.1 L439 395.1 L440.8 395 L442.6 395 L444.3 395 L446.1 395 L447.9 395 L449.7 395 L451.5 395 L457 395 L462.6 395.1 L468.1 395.1 L473.7 395.2 L479.3 395.3 L484.8 395.4 L490.4 395.5 L495.9 395.7 L501.5 395.8 L507.1 396 L512.6 396.2 L518.2 396.5 L523.8 396.7 L529.3 397 L534.9 397.3 L540.4 397.5 L546 397.8 L551.6 398 L557.1 398.3 L562.7 398.5 L568.2 398.8 L573.8 399.1 L579.4 399.3 L584.9 399.7 L590.5 400 L596 400.3 L601.6 400.7 L607.2 401.1 L612.7 401.5 L618.3 401.9 L623.8 402.3 L629.4 402.8" stroke="#00ff00" stroke-width="2.0" stroke-dasharray="7.8 6.4"/>
<path d="M362.5 483.2 L364.3 475.1 L366.1 467 L367.8 458.9 L369.6 451 L371.4 443 L373.2 435.1 L375 427.3 L376.7 419.5 L378.5 412 L380.3 404.9 L382.1 398.3 L383.9 392.3 L385.6 387 L387.4 382.3 L389.2 378.3 L391 374.9 L392.7 372 L394.5 369.7 L396.3 367.8 L398.1 366.4 L399.9 365.3 L401.6 364.5 L403.4 363.8 L405.2 363.3 L407 362.9 L408.8 362.6 L410.5 362.3 L412.3 362.1 L414.1 361.9 L415.9 361.8 L417.7 361.7 L419.4 361.6 L421.2 361.6 L423 361.5 L424.8 361.5 L426.6 361.5 L428.3 361.5 L430.1 361.5 L431.9 361.5 L433.7 361.6 L435.5 361.7 L437.2 361.8 L439 361.9 L440.8 362 L442.6 362.2 L444.3 362.3 L446.1 362.5 L447.9 362.7 L449.7 362.9 L451.5 363.1 L457 363.8 L462.6 364.7 L468.1 365.6 L473.7 366.2 L479.3 366.6 L484.8 366.8 L490.4 367.1 L495.9 367.3 L501.5 367.6 L507.1 367.9 L512.6 368.2 L518.2 368.6 L523.8 368.9 L529.3 369.3 L534.9 369.6 L540.4 370 L546 370.4 L551.6 370.8 L557.1 371.2 L562.7 371.7 L568.2 372.1 L573.8 372.5 L579.4 373 L584.9 373.4 L590.5 373.8 L596 374.3 L601.6 374.7 L607.2 375.1 L612.7 375.6 L618.3 376 L623.8 376.4 L629.4 376.8" stroke="#0000ff" stroke-width="2.0" stroke-dasharray="7.8 6.4"/>
<path d="M362.5 483.2 L364.3 474.5 L366.1 465.9 L367.8 457.4 L369.6 449 L371.4 440.7 L373.2 432.5 L375 424.4 L376.7 416.5 L378.5 408.9 L380.3 401.6 L382.1 394.9 L383.9 388.9 L385.6 383.5 L387.4 378.8 L389.2 374.6 L391 370.9 L392.7 367.6 L394.5 364.7 L396.3 362 L398.1 359.6 L399.9 357.4 L401.6 355.4 L403.4 353.7 L405.2 352.1 L407 350.8 L408.8 349.6 L410.5 348.5 L412.3 347.6 L414.1 346.8 L415.9 346.1 L417.7 345.5 L419.4 345 L421.2 344.6 L423 344.3 L424.8 344 L426.6 343.8 L428.3 343.7 L430.1 343.6 L431.9 343.6 L433.7 343.6 L435.5 343.7 L437.2 343.7 L439 343.8 L440.8 343.9 L442.6 344 L444.3 344.1 L446.1 344.3 L447.9 344.4 L449.7 344.5 L451.5 344.6 L457 345.1 L462.6 345.7 L468.1 346.3 L473.7 346.9 L479.3 347.4 L484.8 347.9 L490.4 348.4 L495.9 348.9 L501.5 349.4 L507.1 349.9 L512.6 350.4 L518.2 350.9 L523.8 351.5 L529.3 352.2 L534.9 353 L540.4 354.1 L546 355.3 L551.6 356.5 L557.1 357.7 L562.7 358.8 L568.2 359.4 L573.8 359.6 L579.4 359.7 L584.9 359.8 L590.5 359.8 L596 360 L601.6 360.4 L607.2 361 L612.7 361.7 L618.3 362.4 L623.8 363.1 L629.4 363.9" stroke="#00ffff" stroke-width="2.0" stroke-dasharray="7.8 6.4"/>
<path d="M362.5 483.2 L364.3 481.3 L366.1 479.4 L367.8 477.6 L369.6 475.7 L371.4 474 L373.2 472.2 L375 470.5 L376.7 468.9 L378.5 467.3 L380.3 465.9 L382.1 464.7 L383.9 463.7 L385.6 462.9 L387.4 462.3 L389.2 461.8 L391 461.5 L392.7 461.2 L394.5 461 L396.3 460.9 L398.1 460.8 L399.9 460.7 L401.6 460.6 L403.4 460.6 L405.2 460.6 L407 460.6 L408.8 460.6 L410.5 460.7 L412.3 460.7 L414.1 460.8 L415.9 460.9 L417.7 460.9 L419.4 461 L421.2 461.1 L423 461.2 L424.8 461.3 L426.6 461.4 L428.3 461.5 L430.1 461.6 L431.9 461.6 L433.7 461.7 L435.5 461.8 L437.2 461.9 L439 461.9 L440.8 462 L442.6 462.1 L444.3 462.1 L446.1 462.2 L447.9 462.2 L449.7 462.2 L451.5 462.2 L457 462.1 L462.6 462 L468.1 461.8 L473.7 461.5 L479.3 461.1 L484.8 460.6 L490.4 460.2 L495.9 460 L501.5 460 L507.1 460 L512.6 460.1 L518.2 460.2 L523.8 460.3 L529.3 460.3 L534.9 460.4 L540.4 460.4 L546 460.3 L551.6 460.3 L557.1 460.1 L562.7 460 L568.2 459.8 L573.8 459.6 L579.4 459.4 L584.9 459.3 L590.5 459.1 L596 458.9 L601.6 458.8 L607.2 458.6 L612.7 458.5 L618.3 458.3 L623.8 458.1 L629.4 458" stroke="#000000" stroke-width="1.6" stroke-dasharray="1.6 6.9"/>
<path d="M362.5 483.2 L364.3 478.7 L366.1 474.3 L367.8 469.9 L369.6 465.6 L371.4 461.3 L373.2 457.2 L375 453.1 L376.7 449.1 L378.5 445.2 L380.3 441.7 L382.1 438.5 L383.9 435.7 L385.6 433.4 L387.4 431.4 L389.2 429.8 L391 428.5 L392.7 427.4 L394.5 426.6 L396.3 425.9 L398.1 425.5 L399.9 425.1 L401.6 424.9 L403.4 424.7 L405.2 424.6 L407 424.4 L408.8 424.3 L410.5 424.3 L412.3 424.2 L414.1 424.1 L415.9 424.1 L417.7 424.1 L419.4 424 L421.2 424 L423 424 L424.8 423.9 L426.6 423.9 L428.3 423.9 L430.1 423.9 L431.9 423.8 L433.7 423.8 L435.5 423.7 L437.2 423.7 L439 423.6 L440.8 423.6 L442.6 423.5 L444.3 423.5 L446.1 423.4 L447.9 423.3 L449.7 423.2 L451.5 423.2 L457 422.8 L462.6 422.5 L468.1 422 L473.7 421.6 L479.3 421.2 L484.8 420.7 L490.4 420.3 L495.9 419.9 L501.5 419.5 L507.1 419.1 L512.6 418.8 L518.2 418.4 L523.8 418.1 L529.3 417.9 L534.9 417.7 L540.4 417.6 L546 417.6 L551.6 417.7 L557.1 417.7 L562.7 417.8 L568.2 417.8 L573.8 417.9 L579.4 418 L584.9 418 L590.5 418.1 L596 418.2 L601.6 418.4 L607.2 418.5 L612.7 418.7 L618.3 418.8 L623.8 419 L629.4 419.2" stroke="#ff0000" stroke-width="1.6" stroke-dasharray="1.6 6.9"/>
<path d="M362.5 483.2 L364.3 476 L366.1 468.9 L367.8 462 L369.6 455.2 L371.4 448.7 L373.2 442.5 L375 436.4 L376.7 430.6 L378.5 425.1 L380.3 419.9 L382.1 415.2 L383.9 410.8 L385.6 406.9 L387.4 403.3 L389.2 400.2 L391 397.3 L392.7 394.8 L394.5 392.7 L396.3 390.7 L398.1 389.1 L399.9 387.7 L401.6 386.4 L403.4 385.4 L405.2 384.5 L407 383.8 L408.8 383.2 L410.5 382.7 L412.3 382.3 L414.1 381.9 L415.9 381.6 L417.7 381.4 L419.4 381.2 L421.2 380.9 L423 380.8 L424.8 380.6 L426.6 380.5 L428.3 380.4 L430.1 380.3 L431.9 380.2 L433.7 380.1 L435.5 380 L437.2 380 L439 379.9 L440.8 379.9 L442.6 379.8 L444.3 379.8 L446.1 379.8 L447.9 379.7 L449.7 379.7 L451.5 379.7 L457 379.7 L462.6 379.7 L468.1 379.7 L473.7 379.7 L479.3 379.7 L484.8 379.8 L490.4 379.9 L495.9 380 L501.5 380.1 L507.1 380.3 L512.6 380.5 L518.2 380.7 L523.8 380.9 L529.3 381.1 L534.9 381.2 L540.4 381.2 L546 381.3 L551.6 381.2 L557.1 381.2 L562.7 381.2 L568.2 381.2 L573.8 381.1 L579.4 381.1 L584.9 381.1 L590.5 381.2 L596 381.3 L601.6 381.4 L607.2 381.6 L612.7 381.8 L618.3 382.1 L623.8 382.4 L629.4 382.7" stroke="#00ff00" stroke-width="1.6" stroke-dasharray="1.6 6.9"/>
<path d="M362.5 483.2 L364.3 474.3 L366.1 465.5 L367.8 456.8 L369.6 448.1 L371.4 439.5 L373.2 431 L375 422.6 L376.7 414.3 L378.5 406.3 L380.3 398.7 L382.1 391.8 L383.9 385.6 L385.6 380.3 L387.4 375.7 L389.2 371.8 L391 368.4 L392.7 365.5 L394.5 363 L396.3 360.9 L398.1 359.1 L399.9 357.5 L401.6 356.2 L403.4 355 L405.2 353.9 L407 352.9 L408.8 352 L410.5 351.2 L412.3 350.4 L414.1 349.8 L415.9 349.3 L417.7 348.8 L419.4 348.5 L421.2 348.3 L423 348.1 L424.8 348 L426.6 347.9 L428.3 347.8 L430.1 347.8 L431.9 347.8 L433.7 347.8 L435.5 347.8 L437.2 347.8 L439 347.8 L440.8 347.8 L442.6 347.8 L444.3 347.8 L446.1 347.8 L447.9 347.8 L449.7 347.8 L451.5 347.8 L457 347.8 L462.6 348 L468.1 348.2 L473.7 348.5 L479.3 348.9 L484.8 349.4 L490.4 349.9 L495.9 350.3 L501.5 350.7 L507.1 351 L512.6 351.3 L518.2 351.6 L523.8 351.8 L529.3 352 L534.9 352 L540.4 352 L546 352 L551.6 352 L557.1 352 L562.7 351.7 L568.2 351 L573.8 350.3 L579.4 349.9 L584.9 350 L590.5 350.4 L596 351 L601.6 351.7 L607.2 352.2 L612.7 352.8 L618.3 353.3 L623.8 353.9 L629.4 354.5" stroke="#0000ff" stroke-width="1.6" stroke-dasharray="1.6 6.9"/>
<path d="M362.5 483.2 L364.3 471.5 L366.1 460.1 L367.8 448.9 L369.6 438.2 L371.4 428 L373.2 418.3 L375 409 L376.7 400.3 L378.5 392.1 L380.3 384.4 L382.1 377.3 L383.9 370.9 L385.6 365 L387.4 359.7 L389.2 355 L391 350.8 L392.7 347.1 L394.5 343.9 L396.3 341.1 L398.1 338.8 L399.9 336.7 L401.6 335 L403.4 333.5 L405.2 332.1 L407 330.9 L408.8 329.8 L410.5 328.9 L412.3 328 L414.1 327.2 L415.9 326.6 L417.7 326 L419.4 325.5 L421.2 325.1 L423 324.7 L424.8 324.4 L426.6 324.2 L428.3 324 L430.1 323.9 L431.9 323.8 L433.7 323.7 L435.5 323.7 L437.2 323.6 L439 323.6 L440.8 323.6 L442.6 323.6 L444.3 323.6 L446.1 323.5 L447.9 323.5 L449.7 323.5 L451.5 323.5 L457 323.6 L462.6 323.6 L468.1 323.7 L473.7 323.8 L479.3 323.9 L484.8 324 L490.4 324.1 L495.9 324.2 L501.5 324.4 L507.1 324.6 L512.6 324.9 L518.2 325.1 L523.8 325.4 L529.3 325.7 L534.9 326.1 L540.4 326.4 L546 326.7 L551.6 327 L557.1 327.4 L562.7 327.7 L568.2 328.1 L573.8 328.5 L579.4 328.8 L584.9 329.2 L590.5 329.6 L596 330 L601.6 330.4 L607.2 330.9 L612.7 331.3 L618.3 331.7 L623.8 332.2 L629.4 332.6" stroke="#00ffff" stroke-width="1.6" stroke-dasharray="1.6 6.9"/>
</g>
<g class="b" font-family="'Liberation Sans', Arial, sans-serif" font-weight="bold" font-size="11.8" fill="#000">
<text x="362.5" y="497" text-anchor="middle">0</text>
<text x="384.74" y="497" text-anchor="middle">1</text>
<text x="406.98" y="497" text-anchor="middle">2</text>
<text x="429.23" y="497" text-anchor="middle">3</text>
<text x="451.47" y="497" text-anchor="middle">4</text>
<text x="473.71" y="497" text-anchor="middle">5</text>
<text x="495.95" y="497" text-anchor="middle">6</text>
<text x="518.19" y="497" text-anchor="middle">7</text>
<text x="540.43" y="497" text-anchor="middle">8</text>
<text x="562.67" y="497" text-anchor="middle">9</text>
<text x="584.92" y="497" text-anchor="middle">10</text>
<text x="607.16" y="497" text-anchor="middle">11</text>
<text x="629.4" y="497" text-anchor="middle">12</text>
<text x="358.1" y="487" text-anchor="end">0</text>
<text x="358.1" y="458" text-anchor="end">20</text>
<text x="358.1" y="429" text-anchor="end">40</text>
<text x="358.1" y="401" text-anchor="end">60</text>
<text x="358.1" y="372" text-anchor="end">80</text>
<text x="358.1" y="344" text-anchor="end">100</text>
<text x="358.1" y="315" text-anchor="end">120</text>
<text x="358.1" y="286" text-anchor="end">140</text>
</g>
<g class="b" font-family="'Liberation Sans', Arial, sans-serif" font-weight="bold" font-size="9.45" fill="#000">
<text x="369.6" y="296.4">Solid: CW</text>
<text x="369.6" y="308.6">Dash: Pulse width=10 <tspan class="mu" dx="0.7">μ</tspan>s</text>
<text x="369.6" y="320.9">Dot: Pulse width=500 ns</text>
</g>
<g class="b" font-family="'Liberation Sans', Arial, sans-serif" font-weight="bold" font-size="8.45" fill="#000">
<text x="622.4" y="296.6" text-anchor="end">W=50 <tspan class="mu" dx="0.7">μ</tspan>m, nr=4 @ r=1.5 cm</text>
<text x="620.3" y="310.7" font-size="8.55" text-anchor="end">V<tspan font-size="5.3" dy="3.8">G</tspan><tspan dy="-3.8">=-2~0 V, step 0.5 V</tspan></text>
</g>
<text class="b" x="481.5" y="511.3" font-family="'Liberation Sans', Arial, sans-serif" font-weight="bold" font-size="12.2" fill="#000">V<tspan font-size="6.9" dy="4.7">D</tspan><tspan dy="-4.7"> (V)</tspan></text>
<text class="b" transform="translate(335.8 404.8) rotate(-90) scale(1.085 1)" font-family="'Liberation Sans', Arial, sans-serif" font-weight="bold" font-size="11.8" fill="#000">I<tspan font-size="6.6" dy="4.7">D</tspan><tspan dy="-4.7"> (mA)</tspan></text>
<text x="496.1" y="540.4" text-anchor="middle" font-family="'Liberation Serif', 'Times New Roman', serif" font-size="17.3" fill="#000">(d)</text>
</g>
</svg>
</body>
</html>
